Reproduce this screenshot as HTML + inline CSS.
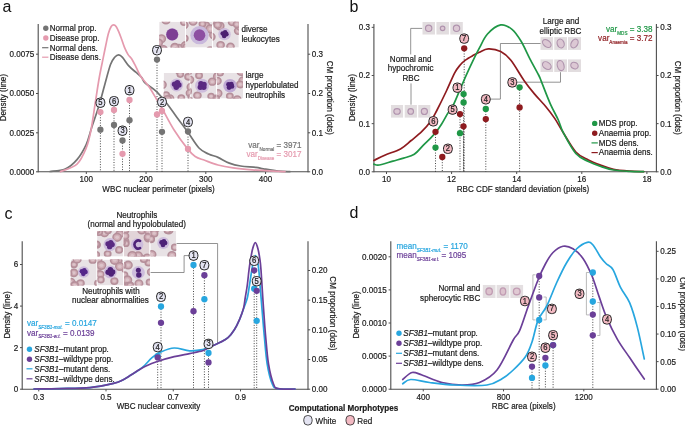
<!DOCTYPE html>
<html><head><meta charset="utf-8"><style>html,body{margin:0;padding:0;background:#fff;width:685px;height:426px;overflow:hidden}svg{display:block;filter:blur(0.3px)}text{font-family:"Liberation Sans",sans-serif}</style></head>
<body>
<svg width="685" height="426" viewBox="0 0 685 426" font-family="Liberation Sans, sans-serif">
<rect width="685" height="426" fill="#fff"/>
<text x="2.6" y="11.8" font-size="16" text-anchor="start" fill="#111">a</text>
<line x1="38.2" y1="24" x2="38.2" y2="172.3" stroke="#4d4d4d" stroke-width="1.1"/>
<line x1="36.0" y1="54.2" x2="38.2" y2="54.2" stroke="#4d4d4d" stroke-width="1"/>
<text transform="translate(34.2 57.1) scale(1 1.12)" font-size="8.1" text-anchor="end" fill="#1a1a1a" stroke="#1a1a1a" stroke-width="0.18">0.0075</text>
<line x1="36.0" y1="93.5" x2="38.2" y2="93.5" stroke="#4d4d4d" stroke-width="1"/>
<text transform="translate(34.2 96.4) scale(1 1.12)" font-size="8.1" text-anchor="end" fill="#1a1a1a" stroke="#1a1a1a" stroke-width="0.18">0.0050</text>
<line x1="36.0" y1="132.8" x2="38.2" y2="132.8" stroke="#4d4d4d" stroke-width="1"/>
<text transform="translate(34.2 135.70000000000002) scale(1 1.12)" font-size="8.1" text-anchor="end" fill="#1a1a1a" stroke="#1a1a1a" stroke-width="0.18">0.0025</text>
<line x1="36.0" y1="171.8" x2="38.2" y2="171.8" stroke="#4d4d4d" stroke-width="1"/>
<text transform="translate(34.2 174.70000000000002) scale(1 1.12)" font-size="8.1" text-anchor="end" fill="#1a1a1a" stroke="#1a1a1a" stroke-width="0.18">0.0000</text>
<line x1="308" y1="24" x2="308" y2="172.3" stroke="#4d4d4d" stroke-width="1.1"/>
<line x1="308" y1="54.2" x2="310.2" y2="54.2" stroke="#4d4d4d" stroke-width="1"/>
<text transform="translate(311.8 57.1) scale(1 1.12)" font-size="8.1" text-anchor="start" fill="#1a1a1a" stroke="#1a1a1a" stroke-width="0.18">0.3</text>
<line x1="308" y1="93.5" x2="310.2" y2="93.5" stroke="#4d4d4d" stroke-width="1"/>
<text transform="translate(311.8 96.4) scale(1 1.12)" font-size="8.1" text-anchor="start" fill="#1a1a1a" stroke="#1a1a1a" stroke-width="0.18">0.2</text>
<line x1="308" y1="132.8" x2="310.2" y2="132.8" stroke="#4d4d4d" stroke-width="1"/>
<text transform="translate(311.8 135.70000000000002) scale(1 1.12)" font-size="8.1" text-anchor="start" fill="#1a1a1a" stroke="#1a1a1a" stroke-width="0.18">0.1</text>
<line x1="308" y1="171.8" x2="310.2" y2="171.8" stroke="#4d4d4d" stroke-width="1"/>
<text transform="translate(311.8 174.70000000000002) scale(1 1.12)" font-size="8.1" text-anchor="start" fill="#1a1a1a" stroke="#1a1a1a" stroke-width="0.18">0.0</text>
<line x1="38.2" y1="171.8" x2="308" y2="171.8" stroke="#4d4d4d" stroke-width="1.1"/>
<line x1="86.3" y1="171.8" x2="86.3" y2="174.0" stroke="#4d4d4d" stroke-width="1"/>
<text transform="translate(86.3 182.4) scale(1 1.12)" font-size="8.1" text-anchor="middle" fill="#1a1a1a" stroke="#1a1a1a" stroke-width="0.18">100</text>
<line x1="146.05" y1="171.8" x2="146.05" y2="174.0" stroke="#4d4d4d" stroke-width="1"/>
<text transform="translate(146.05 182.4) scale(1 1.12)" font-size="8.1" text-anchor="middle" fill="#1a1a1a" stroke="#1a1a1a" stroke-width="0.18">200</text>
<line x1="205.8" y1="171.8" x2="205.8" y2="174.0" stroke="#4d4d4d" stroke-width="1"/>
<text transform="translate(205.8 182.4) scale(1 1.12)" font-size="8.1" text-anchor="middle" fill="#1a1a1a" stroke="#1a1a1a" stroke-width="0.18">300</text>
<line x1="265.55" y1="171.8" x2="265.55" y2="174.0" stroke="#4d4d4d" stroke-width="1"/>
<text transform="translate(265.55 182.4) scale(1 1.12)" font-size="8.1" text-anchor="middle" fill="#1a1a1a" stroke="#1a1a1a" stroke-width="0.18">400</text>
<text transform="translate(158.5 191.5) scale(1 1.12)" font-size="8.1" text-anchor="middle" fill="#1a1a1a" stroke="#1a1a1a" stroke-width="0.18">WBC nuclear perimeter (pixels)</text>
<text transform="translate(6.1 97.7) rotate(-90) scale(1 1.12)" font-size="8.1" text-anchor="middle" fill="#1a1a1a" stroke="#1a1a1a" stroke-width="0.18">Density (line)</text>
<text transform="translate(326.8 97.7) rotate(90) scale(1 1.12)" font-size="8.1" text-anchor="middle" fill="#1a1a1a" stroke="#1a1a1a" stroke-width="0.18">CM proportion (dots)</text>
<circle cx="45.8" cy="28.2" r="2.7" fill="#747474"/>
<circle cx="45.8" cy="38" r="2.7" fill="#e59aae"/>
<line x1="42.1" y1="47.7" x2="48.4" y2="47.7" stroke="#747474" stroke-width="1.2"/>
<line x1="42.1" y1="57.2" x2="48.4" y2="57.2" stroke="#e59aae" stroke-width="1.2"/>
<text transform="translate(49.7 31.1) scale(1 1.12)" font-size="8.1" text-anchor="start" fill="#1a1a1a" stroke="#1a1a1a" stroke-width="0.18">Normal prop.</text>
<text transform="translate(49.7 40.8) scale(1 1.12)" font-size="8.1" text-anchor="start" fill="#1a1a1a" stroke="#1a1a1a" stroke-width="0.18">Disease prop.</text>
<text transform="translate(49.7 50.5) scale(1 1.12)" font-size="8.1" text-anchor="start" fill="#1a1a1a" stroke="#1a1a1a" stroke-width="0.18">Normal dens.</text>
<text transform="translate(49.7 60.2) scale(1 1.12)" font-size="8.1" text-anchor="start" fill="#1a1a1a" stroke="#1a1a1a" stroke-width="0.18">Disease dens.</text>
<clipPath id="c1"><rect x="159.20" y="21.70" width="26.00" height="25.90"/></clipPath>
<g clip-path="url(#c1)">
<rect x="159.20" y="21.70" width="26.00" height="25.90" fill="#e8e2e5"/>
<ellipse cx="157.01" cy="45.14" rx="3.37" ry="3.12" fill="#d0adb5" stroke="#b58f9a" stroke-width="1.55"/>
<ellipse cx="157.01" cy="45.14" rx="1.56" ry="1.40" fill="#dcc4ca"/>
<ellipse cx="163.91" cy="50.05" rx="3.60" ry="3.34" fill="#d0adb5" stroke="#b58f9a" stroke-width="1.55"/>
<ellipse cx="163.91" cy="50.05" rx="1.67" ry="1.50" fill="#dcc4ca"/>
<ellipse cx="161.30" cy="38.84" rx="4.05" ry="3.75" fill="#d0adb5" stroke="#b58f9a" stroke-width="1.55"/>
<ellipse cx="161.30" cy="38.84" rx="1.87" ry="1.69" fill="#dcc4ca"/>
<ellipse cx="158.60" cy="42.68" rx="3.74" ry="3.46" fill="#d0adb5" stroke="#b58f9a" stroke-width="1.55"/>
<ellipse cx="158.60" cy="42.68" rx="1.73" ry="1.56" fill="#dcc4ca"/>
<ellipse cx="166.00" cy="20.07" rx="4.05" ry="3.75" fill="#d0adb5" stroke="#b58f9a" stroke-width="1.55"/>
<ellipse cx="166.00" cy="20.07" rx="1.87" ry="1.69" fill="#dcc4ca"/>
<ellipse cx="178.88" cy="47.74" rx="3.52" ry="3.26" fill="#d0adb5" stroke="#b58f9a" stroke-width="1.55"/>
<ellipse cx="178.88" cy="47.74" rx="1.63" ry="1.47" fill="#dcc4ca"/>
<ellipse cx="184.02" cy="22.14" rx="3.23" ry="2.99" fill="#d0adb5" stroke="#b58f9a" stroke-width="1.55"/>
<ellipse cx="184.02" cy="22.14" rx="1.49" ry="1.35" fill="#dcc4ca"/>
<ellipse cx="163.37" cy="49.12" rx="3.56" ry="3.30" fill="#d0adb5" stroke="#b58f9a" stroke-width="1.55"/>
<ellipse cx="163.37" cy="49.12" rx="1.65" ry="1.49" fill="#dcc4ca"/>
<ellipse cx="174.83" cy="47.21" rx="3.84" ry="3.56" fill="#d0adb5" stroke="#b58f9a" stroke-width="1.55"/>
<ellipse cx="174.83" cy="47.21" rx="1.78" ry="1.60" fill="#dcc4ca"/>
<ellipse cx="185.58" cy="45.73" rx="4.19" ry="3.88" fill="#d0adb5" stroke="#b58f9a" stroke-width="1.55"/>
<ellipse cx="185.58" cy="45.73" rx="1.94" ry="1.74" fill="#dcc4ca"/>
<ellipse cx="186.70" cy="47.23" rx="3.71" ry="3.44" fill="#d0adb5" stroke="#b58f9a" stroke-width="1.55"/>
<ellipse cx="186.70" cy="47.23" rx="1.72" ry="1.55" fill="#dcc4ca"/>
<circle cx="172.20" cy="34.39" r="6.30" fill="#cdbcdc"/>
<circle cx="172.20" cy="34.39" r="6.00" fill="#7d3f94"/>
</g>
<clipPath id="c2"><rect x="186.00" y="21.70" width="26.00" height="25.90"/></clipPath>
<g clip-path="url(#c2)">
<rect x="186.00" y="21.70" width="26.00" height="25.90" fill="#e8e2e5"/>
<ellipse cx="205.67" cy="25.67" rx="4.01" ry="3.71" fill="#d0adb5" stroke="#b58f9a" stroke-width="1.55"/>
<ellipse cx="205.67" cy="25.67" rx="1.86" ry="1.67" fill="#dcc4ca"/>
<ellipse cx="210.04" cy="49.87" rx="3.18" ry="2.94" fill="#d0adb5" stroke="#b58f9a" stroke-width="1.55"/>
<ellipse cx="210.04" cy="49.87" rx="1.47" ry="1.32" fill="#dcc4ca"/>
<ellipse cx="184.78" cy="38.21" rx="3.13" ry="2.90" fill="#d0adb5" stroke="#b58f9a" stroke-width="1.55"/>
<ellipse cx="184.78" cy="38.21" rx="1.45" ry="1.30" fill="#dcc4ca"/>
<ellipse cx="214.00" cy="34.82" rx="4.19" ry="3.88" fill="#d0adb5" stroke="#b58f9a" stroke-width="1.55"/>
<ellipse cx="214.00" cy="34.82" rx="1.94" ry="1.75" fill="#dcc4ca"/>
<ellipse cx="193.06" cy="21.50" rx="3.75" ry="3.47" fill="#d0adb5" stroke="#b58f9a" stroke-width="1.55"/>
<ellipse cx="193.06" cy="21.50" rx="1.74" ry="1.56" fill="#dcc4ca"/>
<ellipse cx="184.38" cy="25.24" rx="3.53" ry="3.27" fill="#d0adb5" stroke="#b58f9a" stroke-width="1.55"/>
<ellipse cx="184.38" cy="25.24" rx="1.64" ry="1.47" fill="#dcc4ca"/>
<ellipse cx="202.45" cy="23.96" rx="3.12" ry="2.89" fill="#d0adb5" stroke="#b58f9a" stroke-width="1.55"/>
<ellipse cx="202.45" cy="23.96" rx="1.45" ry="1.30" fill="#dcc4ca"/>
<ellipse cx="210.47" cy="28.86" rx="4.15" ry="3.84" fill="#d0adb5" stroke="#b58f9a" stroke-width="1.55"/>
<ellipse cx="210.47" cy="28.86" rx="1.92" ry="1.73" fill="#dcc4ca"/>
<circle cx="199.52" cy="35.17" r="9.20" fill="#c9b9dc"/>
<circle cx="199.52" cy="35.17" r="5.80" fill="#8d4fa2"/>
</g>
<clipPath id="c3"><rect x="212.80" y="21.70" width="26.00" height="25.90"/></clipPath>
<g clip-path="url(#c3)">
<rect x="212.80" y="21.70" width="26.00" height="25.90" fill="#e8e2e5"/>
<ellipse cx="238.18" cy="30.85" rx="3.59" ry="3.33" fill="#d0adb5" stroke="#b58f9a" stroke-width="1.55"/>
<ellipse cx="238.18" cy="30.85" rx="1.66" ry="1.50" fill="#dcc4ca"/>
<ellipse cx="210.89" cy="20.99" rx="3.83" ry="3.55" fill="#d0adb5" stroke="#b58f9a" stroke-width="1.55"/>
<ellipse cx="210.89" cy="20.99" rx="1.77" ry="1.60" fill="#dcc4ca"/>
<ellipse cx="240.26" cy="26.91" rx="3.59" ry="3.32" fill="#d0adb5" stroke="#b58f9a" stroke-width="1.55"/>
<ellipse cx="240.26" cy="26.91" rx="1.66" ry="1.49" fill="#dcc4ca"/>
<ellipse cx="211.04" cy="36.80" rx="3.90" ry="3.61" fill="#d0adb5" stroke="#b58f9a" stroke-width="1.55"/>
<ellipse cx="211.04" cy="36.80" rx="1.81" ry="1.62" fill="#dcc4ca"/>
<ellipse cx="219.87" cy="26.03" rx="3.98" ry="3.68" fill="#d0adb5" stroke="#b58f9a" stroke-width="1.55"/>
<ellipse cx="219.87" cy="26.03" rx="1.84" ry="1.66" fill="#dcc4ca"/>
<ellipse cx="217.65" cy="24.93" rx="3.56" ry="3.30" fill="#d0adb5" stroke="#b58f9a" stroke-width="1.55"/>
<ellipse cx="217.65" cy="24.93" rx="1.65" ry="1.48" fill="#dcc4ca"/>
<ellipse cx="231.98" cy="22.28" rx="3.44" ry="3.18" fill="#d0adb5" stroke="#b58f9a" stroke-width="1.55"/>
<ellipse cx="231.98" cy="22.28" rx="1.59" ry="1.43" fill="#dcc4ca"/>
<ellipse cx="220.61" cy="45.02" rx="3.57" ry="3.30" fill="#d0adb5" stroke="#b58f9a" stroke-width="1.55"/>
<ellipse cx="220.61" cy="45.02" rx="1.65" ry="1.49" fill="#dcc4ca"/>
<ellipse cx="236.89" cy="24.37" rx="3.45" ry="3.20" fill="#d0adb5" stroke="#b58f9a" stroke-width="1.55"/>
<ellipse cx="236.89" cy="24.37" rx="1.60" ry="1.44" fill="#dcc4ca"/>
<ellipse cx="230.49" cy="46.61" rx="3.58" ry="3.32" fill="#d0adb5" stroke="#b58f9a" stroke-width="1.55"/>
<ellipse cx="230.49" cy="46.61" rx="1.66" ry="1.49" fill="#dcc4ca"/>
<circle cx="224.50" cy="34.13" r="6.20" fill="#cdbcdc"/>
<circle cx="226.39" cy="34.13" r="2.31" fill="#4b1f70"/>
<circle cx="224.17" cy="35.99" r="2.31" fill="#4b1f70"/>
<circle cx="222.72" cy="33.49" r="2.31" fill="#4b1f70"/>
<circle cx="225.15" cy="32.36" r="2.31" fill="#4b1f70"/>
</g>
<clipPath id="c4"><rect x="163.70" y="73.00" width="25.90" height="25.50"/></clipPath>
<g clip-path="url(#c4)">
<rect x="163.70" y="73.00" width="25.90" height="25.50" fill="#e8e2e5"/>
<ellipse cx="190.40" cy="93.09" rx="4.05" ry="3.75" fill="#d0adb5" stroke="#b58f9a" stroke-width="1.53"/>
<ellipse cx="190.40" cy="93.09" rx="1.87" ry="1.69" fill="#dcc4ca"/>
<ellipse cx="162.01" cy="84.70" rx="4.07" ry="3.77" fill="#d0adb5" stroke="#b58f9a" stroke-width="1.53"/>
<ellipse cx="162.01" cy="84.70" rx="1.88" ry="1.70" fill="#dcc4ca"/>
<ellipse cx="181.28" cy="98.02" rx="3.15" ry="2.92" fill="#d0adb5" stroke="#b58f9a" stroke-width="1.53"/>
<ellipse cx="181.28" cy="98.02" rx="1.46" ry="1.31" fill="#dcc4ca"/>
<ellipse cx="178.95" cy="70.85" rx="3.27" ry="3.03" fill="#d0adb5" stroke="#b58f9a" stroke-width="1.53"/>
<ellipse cx="178.95" cy="70.85" rx="1.51" ry="1.36" fill="#dcc4ca"/>
<ellipse cx="169.80" cy="98.49" rx="3.87" ry="3.59" fill="#d0adb5" stroke="#b58f9a" stroke-width="1.53"/>
<ellipse cx="169.80" cy="98.49" rx="1.79" ry="1.61" fill="#dcc4ca"/>
<ellipse cx="166.07" cy="94.84" rx="3.18" ry="2.95" fill="#d0adb5" stroke="#b58f9a" stroke-width="1.53"/>
<ellipse cx="166.07" cy="94.84" rx="1.47" ry="1.33" fill="#dcc4ca"/>
<ellipse cx="180.30" cy="74.33" rx="3.03" ry="2.81" fill="#d0adb5" stroke="#b58f9a" stroke-width="1.53"/>
<ellipse cx="180.30" cy="74.33" rx="1.40" ry="1.26" fill="#dcc4ca"/>
<ellipse cx="188.19" cy="76.86" rx="3.27" ry="3.02" fill="#d0adb5" stroke="#b58f9a" stroke-width="1.53"/>
<ellipse cx="188.19" cy="76.86" rx="1.51" ry="1.36" fill="#dcc4ca"/>
<ellipse cx="191.64" cy="97.15" rx="3.35" ry="3.10" fill="#d0adb5" stroke="#b58f9a" stroke-width="1.53"/>
<ellipse cx="191.64" cy="97.15" rx="1.55" ry="1.40" fill="#dcc4ca"/>
<ellipse cx="190.99" cy="86.95" rx="3.78" ry="3.50" fill="#d0adb5" stroke="#b58f9a" stroke-width="1.53"/>
<ellipse cx="190.99" cy="86.95" rx="1.75" ry="1.57" fill="#dcc4ca"/>
<ellipse cx="167.47" cy="99.24" rx="3.79" ry="3.51" fill="#d0adb5" stroke="#b58f9a" stroke-width="1.53"/>
<ellipse cx="167.47" cy="99.24" rx="1.75" ry="1.58" fill="#dcc4ca"/>
<circle cx="176.65" cy="84.98" r="6.50" fill="#cdbcdc"/>
<circle cx="178.90" cy="84.98" r="2.75" fill="#5a2a82"/>
<circle cx="176.26" cy="87.20" r="2.75" fill="#5a2a82"/>
<circle cx="174.54" cy="84.22" r="2.75" fill="#5a2a82"/>
<circle cx="177.42" cy="82.87" r="2.75" fill="#5a2a82"/>
</g>
<clipPath id="c5"><rect x="190.40" y="73.00" width="25.90" height="25.50"/></clipPath>
<g clip-path="url(#c5)">
<rect x="190.40" y="73.00" width="25.90" height="25.50" fill="#e8e2e5"/>
<ellipse cx="217.85" cy="97.80" rx="3.36" ry="3.11" fill="#d0adb5" stroke="#b58f9a" stroke-width="1.53"/>
<ellipse cx="217.85" cy="97.80" rx="1.55" ry="1.40" fill="#dcc4ca"/>
<ellipse cx="199.04" cy="75.53" rx="3.19" ry="2.95" fill="#d0adb5" stroke="#b58f9a" stroke-width="1.53"/>
<ellipse cx="199.04" cy="75.53" rx="1.48" ry="1.33" fill="#dcc4ca"/>
<ellipse cx="189.83" cy="79.67" rx="3.69" ry="3.42" fill="#d0adb5" stroke="#b58f9a" stroke-width="1.53"/>
<ellipse cx="189.83" cy="79.67" rx="1.71" ry="1.54" fill="#dcc4ca"/>
<ellipse cx="187.92" cy="91.19" rx="3.40" ry="3.15" fill="#d0adb5" stroke="#b58f9a" stroke-width="1.53"/>
<ellipse cx="187.92" cy="91.19" rx="1.57" ry="1.42" fill="#dcc4ca"/>
<ellipse cx="197.44" cy="95.50" rx="3.56" ry="3.30" fill="#d0adb5" stroke="#b58f9a" stroke-width="1.53"/>
<ellipse cx="197.44" cy="95.50" rx="1.65" ry="1.48" fill="#dcc4ca"/>
<ellipse cx="189.58" cy="100.29" rx="3.05" ry="2.83" fill="#d0adb5" stroke="#b58f9a" stroke-width="1.53"/>
<ellipse cx="189.58" cy="100.29" rx="1.41" ry="1.27" fill="#dcc4ca"/>
<ellipse cx="211.11" cy="96.30" rx="3.05" ry="2.82" fill="#d0adb5" stroke="#b58f9a" stroke-width="1.53"/>
<ellipse cx="211.11" cy="96.30" rx="1.41" ry="1.27" fill="#dcc4ca"/>
<ellipse cx="212.29" cy="81.66" rx="3.67" ry="3.40" fill="#d0adb5" stroke="#b58f9a" stroke-width="1.53"/>
<ellipse cx="212.29" cy="81.66" rx="1.70" ry="1.53" fill="#dcc4ca"/>
<ellipse cx="188.09" cy="71.88" rx="3.23" ry="2.99" fill="#d0adb5" stroke="#b58f9a" stroke-width="1.53"/>
<ellipse cx="188.09" cy="71.88" rx="1.49" ry="1.35" fill="#dcc4ca"/>
<ellipse cx="217.50" cy="76.46" rx="3.86" ry="3.58" fill="#d0adb5" stroke="#b58f9a" stroke-width="1.53"/>
<ellipse cx="217.50" cy="76.46" rx="1.79" ry="1.61" fill="#dcc4ca"/>
<ellipse cx="216.70" cy="99.28" rx="3.41" ry="3.16" fill="#d0adb5" stroke="#b58f9a" stroke-width="1.53"/>
<ellipse cx="216.70" cy="99.28" rx="1.58" ry="1.42" fill="#dcc4ca"/>
<circle cx="202.05" cy="85.75" r="7.00" fill="#cdbcdc"/>
<circle cx="203.78" cy="87.20" r="2.75" fill="#5a2a82"/>
<circle cx="200.33" cy="87.20" r="2.75" fill="#5a2a82"/>
<circle cx="200.93" cy="83.80" r="2.75" fill="#5a2a82"/>
<circle cx="204.00" cy="84.62" r="2.75" fill="#5a2a82"/>
</g>
<clipPath id="c6"><rect x="217.10" y="73.00" width="25.90" height="25.50"/></clipPath>
<g clip-path="url(#c6)">
<rect x="217.10" y="73.00" width="25.90" height="25.50" fill="#e8e2e5"/>
<ellipse cx="217.87" cy="93.35" rx="3.91" ry="3.62" fill="#d0adb5" stroke="#b58f9a" stroke-width="1.53"/>
<ellipse cx="217.87" cy="93.35" rx="1.81" ry="1.63" fill="#dcc4ca"/>
<ellipse cx="241.23" cy="71.57" rx="4.07" ry="3.77" fill="#d0adb5" stroke="#b58f9a" stroke-width="1.53"/>
<ellipse cx="241.23" cy="71.57" rx="1.88" ry="1.70" fill="#dcc4ca"/>
<ellipse cx="217.34" cy="80.88" rx="3.70" ry="3.43" fill="#d0adb5" stroke="#b58f9a" stroke-width="1.53"/>
<ellipse cx="217.34" cy="80.88" rx="1.71" ry="1.54" fill="#dcc4ca"/>
<ellipse cx="243.04" cy="80.85" rx="4.05" ry="3.75" fill="#d0adb5" stroke="#b58f9a" stroke-width="1.53"/>
<ellipse cx="243.04" cy="80.85" rx="1.87" ry="1.69" fill="#dcc4ca"/>
<ellipse cx="220.03" cy="72.84" rx="3.19" ry="2.96" fill="#d0adb5" stroke="#b58f9a" stroke-width="1.53"/>
<ellipse cx="220.03" cy="72.84" rx="1.48" ry="1.33" fill="#dcc4ca"/>
<ellipse cx="235.93" cy="100.95" rx="3.21" ry="2.97" fill="#d0adb5" stroke="#b58f9a" stroke-width="1.53"/>
<ellipse cx="235.93" cy="100.95" rx="1.48" ry="1.34" fill="#dcc4ca"/>
<ellipse cx="216.02" cy="100.64" rx="3.62" ry="3.35" fill="#d0adb5" stroke="#b58f9a" stroke-width="1.53"/>
<ellipse cx="216.02" cy="100.64" rx="1.67" ry="1.51" fill="#dcc4ca"/>
<ellipse cx="240.19" cy="84.39" rx="3.49" ry="3.24" fill="#d0adb5" stroke="#b58f9a" stroke-width="1.53"/>
<ellipse cx="240.19" cy="84.39" rx="1.62" ry="1.46" fill="#dcc4ca"/>
<ellipse cx="216.24" cy="98.48" rx="3.07" ry="2.84" fill="#d0adb5" stroke="#b58f9a" stroke-width="1.53"/>
<ellipse cx="216.24" cy="98.48" rx="1.42" ry="1.28" fill="#dcc4ca"/>
<ellipse cx="229.85" cy="96.11" rx="3.17" ry="2.94" fill="#d0adb5" stroke="#b58f9a" stroke-width="1.53"/>
<ellipse cx="229.85" cy="96.11" rx="1.47" ry="1.32" fill="#dcc4ca"/>
<ellipse cx="237.25" cy="99.51" rx="3.72" ry="3.45" fill="#d0adb5" stroke="#b58f9a" stroke-width="1.53"/>
<ellipse cx="237.25" cy="99.51" rx="1.72" ry="1.55" fill="#dcc4ca"/>
<circle cx="230.05" cy="85.75" r="6.80" fill="#bfa9d4"/>
<circle cx="231.91" cy="86.43" r="2.42" fill="#4e2378"/>
<circle cx="229.06" cy="87.46" r="2.42" fill="#4e2378"/>
<circle cx="228.53" cy="84.48" r="2.42" fill="#4e2378"/>
<circle cx="231.32" cy="84.23" r="2.42" fill="#4e2378"/>
</g>
<text transform="translate(241.5 32) scale(1 1.12)" font-size="8.1" text-anchor="start" fill="#1a1a1a" stroke="#1a1a1a" stroke-width="0.18">diverse</text>
<text transform="translate(241.5 42) scale(1 1.12)" font-size="8.1" text-anchor="start" fill="#1a1a1a" stroke="#1a1a1a" stroke-width="0.18">leukocytes</text>
<text transform="translate(245.5 78) scale(1 1.12)" font-size="8.1" text-anchor="start" fill="#1a1a1a" stroke="#1a1a1a" stroke-width="0.18">large</text>
<text transform="translate(245.5 88) scale(1 1.12)" font-size="8.1" text-anchor="start" fill="#1a1a1a" stroke="#1a1a1a" stroke-width="0.18">hyperlobulated</text>
<text transform="translate(245.5 98) scale(1 1.12)" font-size="8.1" text-anchor="start" fill="#1a1a1a" stroke="#1a1a1a" stroke-width="0.18">neutrophils</text>
<text transform="translate(301.5 147.6) scale(1 1.12)" font-size="8.1" text-anchor="end" fill="#747474" stroke="#747474" stroke-width="0.18">var<tspan font-size="4.6" dy="2.6">Normal</tspan><tspan dy="-2.6"> = 3971</tspan></text>
<text transform="translate(301.5 157.2) scale(1 1.12)" font-size="8.1" text-anchor="end" fill="#e59aae" stroke="#e59aae" stroke-width="0.18">var<tspan font-size="4.6" dy="2.6">Disease</tspan><tspan dy="-2.6"> = 3017</tspan></text>
<line x1="100.4" y1="112.1" x2="100.4" y2="171.8" stroke="#333" stroke-width="0.9" stroke-dasharray="1,1.6"/>
<line x1="114" y1="110" x2="114" y2="171.8" stroke="#333" stroke-width="0.9" stroke-dasharray="1,1.6"/>
<line x1="122.5" y1="140.5" x2="122.5" y2="171.8" stroke="#333" stroke-width="0.9" stroke-dasharray="1,1.6"/>
<line x1="129.5" y1="100" x2="129.5" y2="171.8" stroke="#333" stroke-width="0.9" stroke-dasharray="1,1.6"/>
<line x1="157" y1="59.6" x2="157" y2="171.8" stroke="#333" stroke-width="0.9" stroke-dasharray="1,1.6"/>
<line x1="162" y1="111" x2="162" y2="171.8" stroke="#333" stroke-width="0.9" stroke-dasharray="1,1.6"/>
<line x1="188" y1="131.4" x2="188" y2="171.8" stroke="#333" stroke-width="0.9" stroke-dasharray="1,1.6"/>
<path d="M50.00,171.50 C52.53,171.08 60.70,170.98 65.20,169.00 C69.70,167.02 73.48,163.72 77.00,159.60 C80.52,155.48 83.85,149.65 86.30,144.30 C88.75,138.95 89.62,133.83 91.70,127.50 C93.78,121.17 96.65,113.35 98.80,106.30 C100.95,99.25 102.65,92.17 104.60,85.20 C106.55,78.23 108.82,69.15 110.50,64.50 C112.18,59.85 113.33,58.90 114.70,57.30 C116.07,55.70 117.40,54.88 118.70,54.90 C120.00,54.92 120.82,55.57 122.50,57.40 C124.18,59.23 126.58,63.43 128.80,65.90 C131.02,68.37 133.68,70.32 135.80,72.20 C137.92,74.08 139.97,75.42 141.50,77.20 C143.03,78.98 142.53,80.55 145.00,82.90 C147.47,85.25 152.53,87.70 156.30,91.30 C160.07,94.90 164.15,100.12 167.60,104.50 C171.05,108.88 173.67,113.05 177.00,117.60 C180.33,122.15 183.93,126.73 187.60,131.80 C191.27,136.87 195.52,144.30 199.00,148.00 C202.48,151.70 205.33,152.43 208.50,154.00 C211.67,155.57 214.53,155.88 218.00,157.40 C221.47,158.92 225.52,161.67 229.30,163.10 C233.08,164.53 236.27,165.30 240.70,166.00 C245.13,166.70 252.10,166.83 255.90,167.30 C259.70,167.77 259.70,168.15 263.50,168.80 C267.30,169.45 274.28,170.73 278.70,171.20 C283.12,171.67 288.12,171.53 290.00,171.60" fill="none" stroke="#747474" stroke-width="1.7" stroke-linejoin="round" stroke-linecap="round"/>
<path d="M60.50,171.60 C63.25,170.37 72.70,168.17 77.00,164.20 C81.30,160.23 83.97,153.47 86.30,147.80 C88.63,142.13 89.43,138.17 91.00,130.20 C92.57,122.23 94.33,108.70 95.70,100.00 C97.07,91.30 98.03,84.62 99.20,78.00 C100.37,71.38 101.63,65.60 102.70,60.30 C103.77,55.00 104.65,50.67 105.60,46.20 C106.55,41.73 107.47,36.78 108.40,33.50 C109.33,30.22 110.32,27.95 111.20,26.50 C112.08,25.05 112.88,24.80 113.70,24.80 C114.52,24.80 115.23,25.28 116.10,26.50 C116.97,27.72 117.95,29.88 118.90,32.10 C119.85,34.32 120.85,37.22 121.80,39.80 C122.75,42.38 123.55,45.13 124.60,47.60 C125.65,50.07 126.93,52.73 128.10,54.60 C129.27,56.47 130.32,56.80 131.60,58.80 C132.88,60.80 134.27,63.65 135.80,66.60 C137.33,69.55 138.63,73.17 140.80,76.50 C142.97,79.83 146.22,82.88 148.80,86.60 C151.38,90.32 153.95,94.90 156.30,98.80 C158.65,102.70 159.93,104.80 162.90,110.00 C165.87,115.20 169.98,123.52 174.10,130.00 C178.22,136.48 184.08,144.48 187.60,148.90 C191.12,153.32 192.35,154.60 195.20,156.50 C198.05,158.40 200.90,158.88 204.70,160.30 C208.50,161.72 213.27,163.73 218.00,165.00 C222.73,166.27 227.42,167.10 233.10,167.90 C238.78,168.70 244.50,169.22 252.10,169.80 C259.70,170.38 273.22,171.10 278.70,171.40 C284.18,171.70 283.95,171.57 285.00,171.60" fill="none" stroke="#e59aae" stroke-width="1.7" stroke-linejoin="round" stroke-linecap="round"/>
<circle cx="100.4" cy="112.1" r="3.15" fill="#e59aae"/>
<circle cx="100.4" cy="129.7" r="3.15" fill="#747474"/>
<rect x="96.0" y="98.0" width="8.8" height="9.4" rx="3.9" ry="3.9" fill="#e4e4f2" stroke="#262626" stroke-width="1"/>
<text transform="translate(100.4 105.2) scale(1 1.12)" font-size="7.6" text-anchor="middle" fill="#1a1a1a" stroke="#1a1a1a" stroke-width="0.18">5</text>
<circle cx="114" cy="110" r="3.15" fill="#e59aae"/>
<circle cx="114" cy="125" r="3.15" fill="#747474"/>
<rect x="109.6" y="96.5" width="8.8" height="9.4" rx="3.9" ry="3.9" fill="#e4e4f2" stroke="#262626" stroke-width="1"/>
<text transform="translate(114 103.7) scale(1 1.12)" font-size="7.6" text-anchor="middle" fill="#1a1a1a" stroke="#1a1a1a" stroke-width="0.18">6</text>
<circle cx="122.5" cy="140.5" r="3.15" fill="#747474"/>
<circle cx="122.5" cy="153.8" r="3.15" fill="#e59aae"/>
<rect x="118.1" y="125.99999999999999" width="8.8" height="9.4" rx="3.9" ry="3.9" fill="#e4e4f2" stroke="#262626" stroke-width="1"/>
<text transform="translate(122.5 133.2) scale(1 1.12)" font-size="7.6" text-anchor="middle" fill="#1a1a1a" stroke="#1a1a1a" stroke-width="0.18">3</text>
<circle cx="129.5" cy="100" r="3.15" fill="#e59aae"/>
<circle cx="129.5" cy="120.2" r="3.15" fill="#747474"/>
<rect x="125.1" y="85.5" width="8.8" height="9.4" rx="3.9" ry="3.9" fill="#e4e4f2" stroke="#262626" stroke-width="1"/>
<text transform="translate(129.5 92.7) scale(1 1.12)" font-size="7.6" text-anchor="middle" fill="#1a1a1a" stroke="#1a1a1a" stroke-width="0.18">1</text>
<circle cx="157" cy="59.6" r="3.15" fill="#747474"/>
<circle cx="157" cy="114.4" r="3.15" fill="#e59aae"/>
<rect x="152.6" y="45.5" width="8.8" height="9.4" rx="3.9" ry="3.9" fill="#e4e4f2" stroke="#262626" stroke-width="1"/>
<text transform="translate(157 52.7) scale(1 1.12)" font-size="7.6" text-anchor="middle" fill="#1a1a1a" stroke="#1a1a1a" stroke-width="0.18">7</text>
<circle cx="162" cy="111" r="3.15" fill="#e59aae"/>
<circle cx="162" cy="131.8" r="3.15" fill="#747474"/>
<rect x="157.6" y="97.3" width="8.8" height="9.4" rx="3.9" ry="3.9" fill="#e4e4f2" stroke="#262626" stroke-width="1"/>
<text transform="translate(162 104.5) scale(1 1.12)" font-size="7.6" text-anchor="middle" fill="#1a1a1a" stroke="#1a1a1a" stroke-width="0.18">2</text>
<circle cx="188" cy="131.4" r="3.15" fill="#747474"/>
<circle cx="188" cy="148.9" r="3.15" fill="#e59aae"/>
<rect x="183.6" y="117.3" width="8.8" height="9.4" rx="3.9" ry="3.9" fill="#e4e4f2" stroke="#262626" stroke-width="1"/>
<text transform="translate(188 124.5) scale(1 1.12)" font-size="7.6" text-anchor="middle" fill="#1a1a1a" stroke="#1a1a1a" stroke-width="0.18">4</text>
<text x="349.5" y="11.7" font-size="16" text-anchor="start" fill="#111">b</text>
<line x1="373.9" y1="24" x2="373.9" y2="172.3" stroke="#4d4d4d" stroke-width="1.1"/>
<line x1="371.7" y1="27.350000000000023" x2="373.9" y2="27.350000000000023" stroke="#4d4d4d" stroke-width="1"/>
<text transform="translate(369.9 30.25000000000002) scale(1 1.12)" font-size="8.1" text-anchor="end" fill="#1a1a1a" stroke="#1a1a1a" stroke-width="0.18">0.3</text>
<line x1="371.7" y1="75.5" x2="373.9" y2="75.5" stroke="#4d4d4d" stroke-width="1"/>
<text transform="translate(369.9 78.4) scale(1 1.12)" font-size="8.1" text-anchor="end" fill="#1a1a1a" stroke="#1a1a1a" stroke-width="0.18">0.2</text>
<line x1="371.7" y1="123.65" x2="373.9" y2="123.65" stroke="#4d4d4d" stroke-width="1"/>
<text transform="translate(369.9 126.55000000000001) scale(1 1.12)" font-size="8.1" text-anchor="end" fill="#1a1a1a" stroke="#1a1a1a" stroke-width="0.18">0.1</text>
<line x1="371.7" y1="171.8" x2="373.9" y2="171.8" stroke="#4d4d4d" stroke-width="1"/>
<text transform="translate(369.9 174.70000000000002) scale(1 1.12)" font-size="8.1" text-anchor="end" fill="#1a1a1a" stroke="#1a1a1a" stroke-width="0.18">0.0</text>
<line x1="656.4" y1="24" x2="656.4" y2="172.3" stroke="#4d4d4d" stroke-width="1.1"/>
<line x1="656.4" y1="27.350000000000023" x2="658.6" y2="27.350000000000023" stroke="#4d4d4d" stroke-width="1"/>
<text transform="translate(660.1999999999999 30.25000000000002) scale(1 1.12)" font-size="8.1" text-anchor="start" fill="#1a1a1a" stroke="#1a1a1a" stroke-width="0.18">0.3</text>
<line x1="656.4" y1="75.5" x2="658.6" y2="75.5" stroke="#4d4d4d" stroke-width="1"/>
<text transform="translate(660.1999999999999 78.4) scale(1 1.12)" font-size="8.1" text-anchor="start" fill="#1a1a1a" stroke="#1a1a1a" stroke-width="0.18">0.2</text>
<line x1="656.4" y1="123.65" x2="658.6" y2="123.65" stroke="#4d4d4d" stroke-width="1"/>
<text transform="translate(660.1999999999999 126.55000000000001) scale(1 1.12)" font-size="8.1" text-anchor="start" fill="#1a1a1a" stroke="#1a1a1a" stroke-width="0.18">0.1</text>
<line x1="656.4" y1="171.8" x2="658.6" y2="171.8" stroke="#4d4d4d" stroke-width="1"/>
<text transform="translate(660.1999999999999 174.70000000000002) scale(1 1.12)" font-size="8.1" text-anchor="start" fill="#1a1a1a" stroke="#1a1a1a" stroke-width="0.18">0.0</text>
<line x1="373.9" y1="171.8" x2="656.4" y2="171.8" stroke="#4d4d4d" stroke-width="1.1"/>
<line x1="386.5" y1="171.8" x2="386.5" y2="174.0" stroke="#4d4d4d" stroke-width="1"/>
<text transform="translate(386.5 182.4) scale(1 1.12)" font-size="8.1" text-anchor="middle" fill="#1a1a1a" stroke="#1a1a1a" stroke-width="0.18">10</text>
<line x1="451.6" y1="171.8" x2="451.6" y2="174.0" stroke="#4d4d4d" stroke-width="1"/>
<text transform="translate(451.6 182.4) scale(1 1.12)" font-size="8.1" text-anchor="middle" fill="#1a1a1a" stroke="#1a1a1a" stroke-width="0.18">12</text>
<line x1="516.7" y1="171.8" x2="516.7" y2="174.0" stroke="#4d4d4d" stroke-width="1"/>
<text transform="translate(516.7 182.4) scale(1 1.12)" font-size="8.1" text-anchor="middle" fill="#1a1a1a" stroke="#1a1a1a" stroke-width="0.18">14</text>
<line x1="581.8" y1="171.8" x2="581.8" y2="174.0" stroke="#4d4d4d" stroke-width="1"/>
<text transform="translate(581.8 182.4) scale(1 1.12)" font-size="8.1" text-anchor="middle" fill="#1a1a1a" stroke="#1a1a1a" stroke-width="0.18">16</text>
<line x1="646.9" y1="171.8" x2="646.9" y2="174.0" stroke="#4d4d4d" stroke-width="1"/>
<text transform="translate(646.9 182.4) scale(1 1.12)" font-size="8.1" text-anchor="middle" fill="#1a1a1a" stroke="#1a1a1a" stroke-width="0.18">18</text>
<text transform="translate(523 191.5) scale(1 1.12)" font-size="8.1" text-anchor="middle" fill="#1a1a1a" stroke="#1a1a1a" stroke-width="0.18">RBC CDF standard deviation (pixels)</text>
<text transform="translate(355.4 97.7) rotate(-90) scale(1 1.12)" font-size="8.1" text-anchor="middle" fill="#1a1a1a" stroke="#1a1a1a" stroke-width="0.18">Density (line)</text>
<text transform="translate(675.3 97.7) rotate(90) scale(1 1.12)" font-size="8.1" text-anchor="middle" fill="#1a1a1a" stroke="#1a1a1a" stroke-width="0.18">CM proportion (dots)</text>
<circle cx="594.7" cy="123.4" r="2.7" fill="#1f9746"/>
<circle cx="594.7" cy="133.2" r="2.7" fill="#8e1b1f"/>
<line x1="591.5" y1="142.9" x2="597.8" y2="142.9" stroke="#1f9746" stroke-width="1.2"/>
<line x1="591.5" y1="152.6" x2="597.8" y2="152.6" stroke="#8e1b1f" stroke-width="1.2"/>
<text transform="translate(598.8 126.3) scale(1 1.12)" font-size="8.1" text-anchor="start" fill="#1a1a1a" stroke="#1a1a1a" stroke-width="0.18">MDS prop.</text>
<text transform="translate(598.8 136.0) scale(1 1.12)" font-size="8.1" text-anchor="start" fill="#1a1a1a" stroke="#1a1a1a" stroke-width="0.18">Anaemia prop.</text>
<text transform="translate(598.8 145.7) scale(1 1.12)" font-size="8.1" text-anchor="start" fill="#1a1a1a" stroke="#1a1a1a" stroke-width="0.18">MDS dens.</text>
<text transform="translate(598.8 155.4) scale(1 1.12)" font-size="8.1" text-anchor="start" fill="#1a1a1a" stroke="#1a1a1a" stroke-width="0.18">Anaemia dens.</text>
<text transform="translate(652.4 31.8) scale(1 1.12)" font-size="8.1" text-anchor="end" fill="#1f9746" stroke="#1f9746" stroke-width="0.18">var<tspan font-size="4.6" dy="2.6">MDS</tspan><tspan dy="-2.6"> = 3.38</tspan></text>
<text transform="translate(652.4 40.6) scale(1 1.12)" font-size="8.1" text-anchor="end" fill="#8e1b1f" stroke="#8e1b1f" stroke-width="0.18">var<tspan font-size="4.6" dy="2.6">Anaemia</tspan><tspan dy="-2.6"> = 3.72</tspan></text>
<line x1="410.7" y1="28.4" x2="422.3" y2="28.4" stroke="#777" stroke-width="0.8"/>
<line x1="410.7" y1="28.4" x2="410.7" y2="54.4" stroke="#777" stroke-width="0.8"/>
<line x1="411" y1="83.4" x2="411" y2="104.7" stroke="#777" stroke-width="0.8"/>
<clipPath id="c7"><rect x="422.30" y="22.00" width="12.73" height="12.70"/></clipPath>
<g clip-path="url(#c7)">
<rect x="422.30" y="22.00" width="12.73" height="12.70" fill="#e2dddf"/>
<ellipse cx="428.67" cy="28.35" rx="3.17" ry="3.17" fill="#dcc8d4" stroke="#b094ae" stroke-width="1.14" transform="rotate(0 428.67 28.35)"/>
</g>
<clipPath id="c8"><rect x="436.23" y="22.00" width="12.73" height="12.70"/></clipPath>
<g clip-path="url(#c8)">
<rect x="436.23" y="22.00" width="12.73" height="12.70" fill="#e2dddf"/>
<ellipse cx="442.60" cy="28.35" rx="2.29" ry="2.29" fill="#dcc8d4" stroke="#b094ae" stroke-width="1.14" transform="rotate(0 442.60 28.35)"/>
</g>
<clipPath id="c9"><rect x="450.17" y="22.00" width="12.73" height="12.70"/></clipPath>
<g clip-path="url(#c9)">
<rect x="450.17" y="22.00" width="12.73" height="12.70" fill="#e2dddf"/>
<ellipse cx="456.53" cy="28.35" rx="3.17" ry="3.17" fill="#dcc8d4" stroke="#b094ae" stroke-width="1.14" transform="rotate(0 456.53 28.35)"/>
</g>
<clipPath id="c10"><rect x="390.80" y="105.00" width="12.47" height="12.80"/></clipPath>
<g clip-path="url(#c10)">
<rect x="390.80" y="105.00" width="12.47" height="12.80" fill="#e2dddf"/>
<ellipse cx="397.03" cy="111.40" rx="3.20" ry="2.82" fill="#dcc8d4" stroke="#b094ae" stroke-width="1.15" transform="rotate(0 397.03 111.40)"/>
</g>
<clipPath id="c11"><rect x="404.47" y="105.00" width="12.47" height="12.80"/></clipPath>
<g clip-path="url(#c11)">
<rect x="404.47" y="105.00" width="12.47" height="12.80" fill="#e2dddf"/>
<ellipse cx="410.70" cy="111.40" rx="2.82" ry="2.82" fill="#dcc8d4" stroke="#b094ae" stroke-width="1.15" transform="rotate(0 410.70 111.40)"/>
</g>
<clipPath id="c12"><rect x="418.13" y="105.00" width="12.47" height="12.80"/></clipPath>
<g clip-path="url(#c12)">
<rect x="418.13" y="105.00" width="12.47" height="12.80" fill="#e2dddf"/>
<ellipse cx="424.37" cy="111.40" rx="3.07" ry="3.07" fill="#dcc8d4" stroke="#b094ae" stroke-width="1.15" transform="rotate(0 424.37 111.40)"/>
</g>
<text transform="translate(410.7 61.9) scale(1 1.12)" font-size="8.1" text-anchor="middle" fill="#1a1a1a" stroke="#1a1a1a" stroke-width="0.18">Normal and</text>
<text transform="translate(410.7 71.3) scale(1 1.12)" font-size="8.1" text-anchor="middle" fill="#1a1a1a" stroke="#1a1a1a" stroke-width="0.18">hypochromic</text>
<text transform="translate(411 81.3) scale(1 1.12)" font-size="8.1" text-anchor="middle" fill="#1a1a1a" stroke="#1a1a1a" stroke-width="0.18">RBC</text>
<text transform="translate(561 24.4) scale(1 1.12)" font-size="8.1" text-anchor="middle" fill="#1a1a1a" stroke="#1a1a1a" stroke-width="0.18">Large and</text>
<text transform="translate(560.5 33.9) scale(1 1.12)" font-size="8.1" text-anchor="middle" fill="#1a1a1a" stroke="#1a1a1a" stroke-width="0.18">elliptic RBC</text>
<clipPath id="c13"><rect x="540.30" y="37.10" width="13.03" height="12.80"/></clipPath>
<g clip-path="url(#c13)">
<rect x="540.30" y="37.10" width="13.03" height="12.80" fill="#e2dddf"/>
<ellipse cx="546.82" cy="43.50" rx="4.86" ry="3.20" fill="#dcc8d4" stroke="#b094ae" stroke-width="1.15" transform="rotate(40 546.82 43.50)"/>
</g>
<clipPath id="c14"><rect x="554.13" y="37.10" width="13.03" height="12.80"/></clipPath>
<g clip-path="url(#c14)">
<rect x="554.13" y="37.10" width="13.03" height="12.80" fill="#e2dddf"/>
<ellipse cx="560.65" cy="43.50" rx="4.48" ry="3.46" fill="#dcc8d4" stroke="#b094ae" stroke-width="1.15" transform="rotate(70 560.65 43.50)"/>
</g>
<clipPath id="c15"><rect x="567.97" y="37.10" width="13.03" height="12.80"/></clipPath>
<g clip-path="url(#c15)">
<rect x="567.97" y="37.10" width="13.03" height="12.80" fill="#e2dddf"/>
<ellipse cx="574.48" cy="43.50" rx="4.74" ry="3.20" fill="#dcc8d4" stroke="#b094ae" stroke-width="1.15" transform="rotate(-60 574.48 43.50)"/>
</g>
<clipPath id="c16"><rect x="540.30" y="59.20" width="13.03" height="12.80"/></clipPath>
<g clip-path="url(#c16)">
<rect x="540.30" y="59.20" width="13.03" height="12.80" fill="#e2dddf"/>
<ellipse cx="546.82" cy="65.60" rx="4.74" ry="3.33" fill="#dcc8d4" stroke="#b094ae" stroke-width="1.15" transform="rotate(35 546.82 65.60)"/>
</g>
<clipPath id="c17"><rect x="554.13" y="59.20" width="13.03" height="12.80"/></clipPath>
<g clip-path="url(#c17)">
<rect x="554.13" y="59.20" width="13.03" height="12.80" fill="#e2dddf"/>
<ellipse cx="560.65" cy="65.60" rx="5.12" ry="3.33" fill="#dcc8d4" stroke="#b094ae" stroke-width="1.15" transform="rotate(75 560.65 65.60)"/>
</g>
<clipPath id="c18"><rect x="567.97" y="59.20" width="13.03" height="12.80"/></clipPath>
<g clip-path="url(#c18)">
<rect x="567.97" y="59.20" width="13.03" height="12.80" fill="#e2dddf"/>
<ellipse cx="574.48" cy="65.60" rx="3.84" ry="3.20" fill="#dcc8d4" stroke="#b094ae" stroke-width="1.15" transform="rotate(30 574.48 65.60)"/>
</g>
<line x1="500.4" y1="43.5" x2="540.6" y2="43.5" stroke="#777" stroke-width="0.8"/>
<line x1="500.4" y1="43.5" x2="500.4" y2="99.1" stroke="#777" stroke-width="0.8"/>
<line x1="490" y1="99.1" x2="500.4" y2="99.1" stroke="#777" stroke-width="0.8"/>
<line x1="517" y1="82.2" x2="560.5" y2="82.2" stroke="#777" stroke-width="0.8"/>
<line x1="560.5" y1="82.2" x2="560.5" y2="72.2" stroke="#777" stroke-width="0.8"/>
<line x1="435.5" y1="131.8" x2="435.5" y2="171.8" stroke="#333" stroke-width="0.9" stroke-dasharray="1,1.6"/>
<line x1="442.3" y1="157" x2="442.3" y2="171.8" stroke="#333" stroke-width="0.9" stroke-dasharray="1,1.6"/>
<line x1="460" y1="114.1" x2="460" y2="171.8" stroke="#333" stroke-width="0.9" stroke-dasharray="1,1.6"/>
<line x1="463.5" y1="126.3" x2="463.5" y2="171.8" stroke="#333" stroke-width="0.9" stroke-dasharray="1,1.6"/>
<line x1="464.2" y1="48.3" x2="464.2" y2="171.8" stroke="#333" stroke-width="0.9" stroke-dasharray="1,1.6"/>
<line x1="463.6" y1="94.1" x2="463.6" y2="171.8" stroke="#333" stroke-width="0.9" stroke-dasharray="1,1.6"/>
<line x1="485.8" y1="108.9" x2="485.8" y2="171.8" stroke="#333" stroke-width="0.9" stroke-dasharray="1,1.6"/>
<line x1="519.6" y1="87.3" x2="519.6" y2="171.8" stroke="#333" stroke-width="0.9" stroke-dasharray="1,1.6"/>
<path d="M373.90,160.40 C375.80,159.50 380.87,156.92 385.30,155.00 C389.73,153.08 396.18,151.32 400.50,148.90 C404.82,146.48 407.63,143.42 411.20,140.50 C414.77,137.58 418.58,134.70 421.90,131.40 C425.22,128.10 428.62,124.18 431.10,120.70 C433.58,117.22 434.25,115.45 436.80,110.50 C439.35,105.55 443.42,97.27 446.40,91.00 C449.38,84.73 452.37,77.28 454.70,72.90 C457.03,68.52 458.62,66.83 460.40,64.70 C462.18,62.57 463.33,61.62 465.40,60.10 C467.47,58.58 470.48,56.90 472.80,55.60 C475.12,54.30 476.73,53.42 479.30,52.30 C481.87,51.18 484.63,49.03 488.20,48.90 C491.77,48.77 496.92,49.60 500.70,51.50 C504.48,53.40 507.02,55.48 510.90,60.30 C514.78,65.12 520.12,74.85 524.00,80.40 C527.88,85.95 530.55,89.22 534.20,93.60 C537.85,97.98 542.48,102.57 545.90,106.70 C549.32,110.83 551.80,114.07 554.70,118.40 C557.60,122.73 559.78,127.10 563.30,132.70 C566.82,138.30 571.62,147.45 575.80,152.00 C579.98,156.55 584.20,157.78 588.40,160.00 C592.60,162.22 596.82,163.73 601.00,165.30 C605.18,166.87 608.67,168.42 613.50,169.40 C618.33,170.38 624.97,170.83 630.00,171.20 C635.03,171.57 641.42,171.53 643.70,171.60" fill="none" stroke="#8e1b1f" stroke-width="1.7" stroke-linejoin="round" stroke-linecap="round"/>
<path d="M373.90,164.20 C374.78,164.33 376.03,165.52 379.20,165.00 C382.37,164.48 388.83,162.25 392.90,161.10 C396.97,159.95 400.03,159.23 403.60,158.10 C407.17,156.97 411.00,156.47 414.30,154.30 C417.60,152.13 420.10,148.42 423.40,145.10 C426.70,141.78 431.03,137.97 434.10,134.40 C437.17,130.83 439.50,127.25 441.80,123.70 C444.10,120.15 446.03,116.08 447.90,113.10 C449.77,110.12 450.50,110.85 453.00,105.80 C455.50,100.75 459.88,89.65 462.90,82.80 C465.92,75.95 468.37,70.47 471.10,64.70 C473.83,58.93 476.57,53.32 479.30,48.20 C482.03,43.08 483.93,37.88 487.50,34.00 C491.07,30.12 496.57,25.63 500.70,24.90 C504.83,24.17 508.90,26.87 512.30,29.60 C515.70,32.33 518.17,36.43 521.10,41.30 C524.03,46.17 526.98,53.18 529.90,58.80 C532.82,64.42 536.67,71.15 538.60,75.00 C540.53,78.85 539.55,77.10 541.50,81.90 C543.45,86.70 547.50,97.45 550.30,103.80 C553.10,110.15 556.13,115.18 558.30,120.00 C560.47,124.82 560.38,127.12 563.30,132.70 C566.22,138.28 571.62,148.70 575.80,153.50 C579.98,158.30 584.20,159.33 588.40,161.50 C592.60,163.67 596.82,165.08 601.00,166.50 C605.18,167.92 608.67,169.18 613.50,170.00 C618.33,170.82 624.97,171.13 630.00,171.40 C635.03,171.67 641.42,171.57 643.70,171.60" fill="none" stroke="#1f9746" stroke-width="1.7" stroke-linejoin="round" stroke-linecap="round"/>
<circle cx="435.5" cy="131.8" r="3.15" fill="#8e1b1f"/>
<circle cx="435.5" cy="147.6" r="3.15" fill="#1f9746"/>
<rect x="428.90000000000003" y="116.6" width="8.8" height="9.4" rx="3.9" ry="3.9" fill="#f2b9c2" stroke="#262626" stroke-width="1"/>
<text transform="translate(433.3 123.8) scale(1 1.12)" font-size="7.6" text-anchor="middle" fill="#1a1a1a" stroke="#1a1a1a" stroke-width="0.18">6</text>
<circle cx="442.3" cy="157" r="3.15" fill="#8e1b1f"/>
<rect x="443.5" y="144.1" width="8.8" height="9.4" rx="3.9" ry="3.9" fill="#f2b9c2" stroke="#262626" stroke-width="1"/>
<text transform="translate(447.9 151.29999999999998) scale(1 1.12)" font-size="7.6" text-anchor="middle" fill="#1a1a1a" stroke="#1a1a1a" stroke-width="0.18">2</text>
<circle cx="460" cy="114.1" r="3.15" fill="#8e1b1f"/>
<circle cx="460" cy="133.2" r="3.15" fill="#1f9746"/>
<rect x="448.20000000000005" y="104.9" width="8.8" height="9.4" rx="3.9" ry="3.9" fill="#f2b9c2" stroke="#262626" stroke-width="1"/>
<text transform="translate(452.6 112.10000000000001) scale(1 1.12)" font-size="7.6" text-anchor="middle" fill="#1a1a1a" stroke="#1a1a1a" stroke-width="0.18">5</text>
<circle cx="463.5" cy="126.3" r="3.15" fill="#8e1b1f"/>
<circle cx="464.2" cy="48.3" r="3.15" fill="#8e1b1f"/>
<rect x="459.8" y="33.9" width="8.8" height="9.4" rx="3.9" ry="3.9" fill="#f2b9c2" stroke="#262626" stroke-width="1"/>
<text transform="translate(464.2 41.1) scale(1 1.12)" font-size="7.6" text-anchor="middle" fill="#1a1a1a" stroke="#1a1a1a" stroke-width="0.18">7</text>
<circle cx="463.6" cy="94.1" r="3.15" fill="#1f9746"/>
<circle cx="463.6" cy="102.4" r="3.15" fill="#1f9746"/>
<rect x="453.0" y="83.0" width="8.8" height="9.4" rx="3.9" ry="3.9" fill="#f2b9c2" stroke="#262626" stroke-width="1"/>
<text transform="translate(457.4 90.2) scale(1 1.12)" font-size="7.6" text-anchor="middle" fill="#1a1a1a" stroke="#1a1a1a" stroke-width="0.18">1</text>
<circle cx="485.8" cy="108.9" r="3.15" fill="#1f9746"/>
<circle cx="485.8" cy="119.1" r="3.15" fill="#8e1b1f"/>
<rect x="481.40000000000003" y="94.6" width="8.8" height="9.4" rx="3.9" ry="3.9" fill="#f2b9c2" stroke="#262626" stroke-width="1"/>
<text transform="translate(485.8 101.8) scale(1 1.12)" font-size="7.6" text-anchor="middle" fill="#1a1a1a" stroke="#1a1a1a" stroke-width="0.18">4</text>
<circle cx="519.6" cy="87.3" r="3.15" fill="#1f9746"/>
<circle cx="519.6" cy="107.4" r="3.15" fill="#8e1b1f"/>
<rect x="507.9" y="77.7" width="8.8" height="9.4" rx="3.9" ry="3.9" fill="#f2b9c2" stroke="#262626" stroke-width="1"/>
<text transform="translate(512.3 84.9) scale(1 1.12)" font-size="7.6" text-anchor="middle" fill="#1a1a1a" stroke="#1a1a1a" stroke-width="0.18">3</text>
<text x="4.4" y="218.5" font-size="16" text-anchor="start" fill="#111">c</text>
<line x1="22.2" y1="241.3" x2="22.2" y2="389.7" stroke="#4d4d4d" stroke-width="1.1"/>
<line x1="20.0" y1="264.52" x2="22.2" y2="264.52" stroke="#4d4d4d" stroke-width="1"/>
<text transform="translate(18.2 267.41999999999996) scale(1 1.12)" font-size="8.1" text-anchor="end" fill="#1a1a1a" stroke="#1a1a1a" stroke-width="0.18">6</text>
<line x1="20.0" y1="306.08" x2="22.2" y2="306.08" stroke="#4d4d4d" stroke-width="1"/>
<text transform="translate(18.2 308.97999999999996) scale(1 1.12)" font-size="8.1" text-anchor="end" fill="#1a1a1a" stroke="#1a1a1a" stroke-width="0.18">4</text>
<line x1="20.0" y1="347.64" x2="22.2" y2="347.64" stroke="#4d4d4d" stroke-width="1"/>
<text transform="translate(18.2 350.53999999999996) scale(1 1.12)" font-size="8.1" text-anchor="end" fill="#1a1a1a" stroke="#1a1a1a" stroke-width="0.18">2</text>
<line x1="20.0" y1="389.2" x2="22.2" y2="389.2" stroke="#4d4d4d" stroke-width="1"/>
<text transform="translate(18.2 392.09999999999997) scale(1 1.12)" font-size="8.1" text-anchor="end" fill="#1a1a1a" stroke="#1a1a1a" stroke-width="0.18">0</text>
<line x1="308" y1="241.3" x2="308" y2="389.7" stroke="#4d4d4d" stroke-width="1.1"/>
<line x1="308" y1="270.47999999999996" x2="310.2" y2="270.47999999999996" stroke="#4d4d4d" stroke-width="1"/>
<text transform="translate(311.8 273.37999999999994) scale(1 1.12)" font-size="8.1" text-anchor="start" fill="#1a1a1a" stroke="#1a1a1a" stroke-width="0.18">0.20</text>
<line x1="308" y1="300.15999999999997" x2="310.2" y2="300.15999999999997" stroke="#4d4d4d" stroke-width="1"/>
<text transform="translate(311.8 303.05999999999995) scale(1 1.12)" font-size="8.1" text-anchor="start" fill="#1a1a1a" stroke="#1a1a1a" stroke-width="0.18">0.15</text>
<line x1="308" y1="329.84" x2="310.2" y2="329.84" stroke="#4d4d4d" stroke-width="1"/>
<text transform="translate(311.8 332.73999999999995) scale(1 1.12)" font-size="8.1" text-anchor="start" fill="#1a1a1a" stroke="#1a1a1a" stroke-width="0.18">0.10</text>
<line x1="308" y1="359.52" x2="310.2" y2="359.52" stroke="#4d4d4d" stroke-width="1"/>
<text transform="translate(311.8 362.41999999999996) scale(1 1.12)" font-size="8.1" text-anchor="start" fill="#1a1a1a" stroke="#1a1a1a" stroke-width="0.18">0.05</text>
<line x1="308" y1="389.2" x2="310.2" y2="389.2" stroke="#4d4d4d" stroke-width="1"/>
<text transform="translate(311.8 392.09999999999997) scale(1 1.12)" font-size="8.1" text-anchor="start" fill="#1a1a1a" stroke="#1a1a1a" stroke-width="0.18">0.00</text>
<line x1="22.2" y1="389.2" x2="308" y2="389.2" stroke="#4d4d4d" stroke-width="1.1"/>
<line x1="38.75" y1="389.2" x2="38.75" y2="391.4" stroke="#4d4d4d" stroke-width="1"/>
<text transform="translate(38.75 399.8) scale(1 1.12)" font-size="8.1" text-anchor="middle" fill="#1a1a1a" stroke="#1a1a1a" stroke-width="0.18">0.3</text>
<line x1="106.0" y1="389.2" x2="106.0" y2="391.4" stroke="#4d4d4d" stroke-width="1"/>
<text transform="translate(106.0 399.8) scale(1 1.12)" font-size="8.1" text-anchor="middle" fill="#1a1a1a" stroke="#1a1a1a" stroke-width="0.18">0.5</text>
<line x1="173.25" y1="389.2" x2="173.25" y2="391.4" stroke="#4d4d4d" stroke-width="1"/>
<text transform="translate(173.25 399.8) scale(1 1.12)" font-size="8.1" text-anchor="middle" fill="#1a1a1a" stroke="#1a1a1a" stroke-width="0.18">0.7</text>
<line x1="240.50000000000003" y1="389.2" x2="240.50000000000003" y2="391.4" stroke="#4d4d4d" stroke-width="1"/>
<text transform="translate(240.50000000000003 399.8) scale(1 1.12)" font-size="8.1" text-anchor="middle" fill="#1a1a1a" stroke="#1a1a1a" stroke-width="0.18">0.9</text>
<text transform="translate(158.5 409) scale(1 1.12)" font-size="8.1" text-anchor="middle" fill="#1a1a1a" stroke="#1a1a1a" stroke-width="0.18">WBC nuclear convexity</text>
<text transform="translate(9.7 315) rotate(-90) scale(1 1.12)" font-size="8.1" text-anchor="middle" fill="#1a1a1a" stroke="#1a1a1a" stroke-width="0.18">Density (line)</text>
<text transform="translate(330.4 313.4) rotate(90) scale(1 1.12)" font-size="8.1" text-anchor="middle" fill="#1a1a1a" stroke="#1a1a1a" stroke-width="0.18">CM proportion (dots)</text>
<text transform="translate(27 326) scale(1 1.12)" font-size="8.1" fill="#27a6df" stroke="#27a6df" stroke-width="0.18">var<tspan font-size="4.6" dy="2.6" font-style="italic">SF3B1-mut.</tspan><tspan dy="-2.6"> = 0.0147</tspan></text>
<text transform="translate(27 335.5) scale(1 1.12)" font-size="8.1" fill="#6b3f98" stroke="#6b3f98" stroke-width="0.18">var<tspan font-size="4.6" dy="2.6" font-style="italic">SF3B1-w.t.</tspan><tspan dy="-2.6"> = 0.0139</tspan></text>
<circle cx="29.5" cy="349.3" r="2.7" fill="#27a6df"/>
<circle cx="29.5" cy="359.3" r="2.7" fill="#6b3f98"/>
<line x1="26.5" y1="368.8" x2="32.5" y2="368.8" stroke="#27a6df" stroke-width="1.2"/>
<line x1="26.5" y1="378.8" x2="32.5" y2="378.8" stroke="#6b3f98" stroke-width="1.2"/>
<text transform="translate(34.3 352.20) scale(1 1.12)" font-size="8.1" fill="#1a1a1a" stroke="#1a1a1a" stroke-width="0.18"><tspan font-style="italic">SF3B1</tspan>–mutant prop.</text>
<text transform="translate(34.3 362.05) scale(1 1.12)" font-size="8.1" fill="#1a1a1a" stroke="#1a1a1a" stroke-width="0.18"><tspan font-style="italic">SF3B1</tspan>–wildtype prop.</text>
<text transform="translate(34.3 371.90) scale(1 1.12)" font-size="8.1" fill="#1a1a1a" stroke="#1a1a1a" stroke-width="0.18"><tspan font-style="italic">SF3B1</tspan>–mutant dens.</text>
<text transform="translate(34.3 381.75) scale(1 1.12)" font-size="8.1" fill="#1a1a1a" stroke="#1a1a1a" stroke-width="0.18"><tspan font-style="italic">SF3B1</tspan>–wildtype dens.</text>
<text transform="translate(136.9 217.8) scale(1 1.12)" font-size="8.1" text-anchor="middle" fill="#1a1a1a" stroke="#1a1a1a" stroke-width="0.18">Neutrophils</text>
<text transform="translate(136.7 227) scale(1 1.12)" font-size="8.1" text-anchor="middle" fill="#1a1a1a" stroke="#1a1a1a" stroke-width="0.18">(normal and hypolobulated)</text>
<clipPath id="c19"><rect x="97.10" y="231.00" width="25.83" height="25.60"/></clipPath>
<g clip-path="url(#c19)">
<rect x="97.10" y="231.00" width="25.83" height="25.60" fill="#e8e2e5"/>
<ellipse cx="104.56" cy="233.07" rx="3.76" ry="3.48" fill="#d0adb5" stroke="#b58f9a" stroke-width="1.54"/>
<ellipse cx="104.56" cy="233.07" rx="1.74" ry="1.57" fill="#dcc4ca"/>
<ellipse cx="96.76" cy="244.90" rx="3.45" ry="3.19" fill="#d0adb5" stroke="#b58f9a" stroke-width="1.54"/>
<ellipse cx="96.76" cy="244.90" rx="1.60" ry="1.44" fill="#dcc4ca"/>
<ellipse cx="96.31" cy="244.03" rx="3.08" ry="2.85" fill="#d0adb5" stroke="#b58f9a" stroke-width="1.54"/>
<ellipse cx="96.31" cy="244.03" rx="1.43" ry="1.28" fill="#dcc4ca"/>
<ellipse cx="107.96" cy="230.59" rx="3.14" ry="2.91" fill="#d0adb5" stroke="#b58f9a" stroke-width="1.54"/>
<ellipse cx="107.96" cy="230.59" rx="1.45" ry="1.31" fill="#dcc4ca"/>
<ellipse cx="107.68" cy="253.84" rx="3.18" ry="2.94" fill="#d0adb5" stroke="#b58f9a" stroke-width="1.54"/>
<ellipse cx="107.68" cy="253.84" rx="1.47" ry="1.32" fill="#dcc4ca"/>
<ellipse cx="95.96" cy="254.81" rx="3.36" ry="3.11" fill="#d0adb5" stroke="#b58f9a" stroke-width="1.54"/>
<ellipse cx="95.96" cy="254.81" rx="1.56" ry="1.40" fill="#dcc4ca"/>
<ellipse cx="98.99" cy="232.06" rx="3.38" ry="3.13" fill="#d0adb5" stroke="#b58f9a" stroke-width="1.54"/>
<ellipse cx="98.99" cy="232.06" rx="1.57" ry="1.41" fill="#dcc4ca"/>
<ellipse cx="119.82" cy="233.99" rx="3.68" ry="3.41" fill="#d0adb5" stroke="#b58f9a" stroke-width="1.54"/>
<ellipse cx="119.82" cy="233.99" rx="1.71" ry="1.54" fill="#dcc4ca"/>
<ellipse cx="96.46" cy="230.27" rx="3.27" ry="3.03" fill="#d0adb5" stroke="#b58f9a" stroke-width="1.54"/>
<ellipse cx="96.46" cy="230.27" rx="1.51" ry="1.36" fill="#dcc4ca"/>
<ellipse cx="119.14" cy="249.91" rx="3.31" ry="3.07" fill="#d0adb5" stroke="#b58f9a" stroke-width="1.54"/>
<ellipse cx="119.14" cy="249.91" rx="1.53" ry="1.38" fill="#dcc4ca"/>
<ellipse cx="117.13" cy="237.29" rx="4.13" ry="3.82" fill="#d0adb5" stroke="#b58f9a" stroke-width="1.54"/>
<ellipse cx="117.13" cy="237.29" rx="1.91" ry="1.72" fill="#dcc4ca"/>
<circle cx="110.02" cy="244.57" r="6.50" fill="#cdbcdc"/>
<circle cx="112.18" cy="244.57" r="2.64" fill="#5a2a82"/>
<circle cx="109.64" cy="246.70" r="2.64" fill="#5a2a82"/>
<circle cx="107.99" cy="243.83" r="2.64" fill="#5a2a82"/>
<circle cx="110.76" cy="242.54" r="2.64" fill="#5a2a82"/>
</g>
<clipPath id="c20"><rect x="123.73" y="231.00" width="25.83" height="25.60"/></clipPath>
<g clip-path="url(#c20)">
<rect x="123.73" y="231.00" width="25.83" height="25.60" fill="#e2d4d8"/>
<ellipse cx="124.81" cy="241.28" rx="3.88" ry="3.59" fill="#d0adb5" stroke="#b58f9a" stroke-width="1.54"/>
<ellipse cx="124.81" cy="241.28" rx="1.80" ry="1.62" fill="#dcc4ca"/>
<ellipse cx="125.86" cy="243.46" rx="3.08" ry="2.86" fill="#d0adb5" stroke="#b58f9a" stroke-width="1.54"/>
<ellipse cx="125.86" cy="243.46" rx="1.43" ry="1.29" fill="#dcc4ca"/>
<ellipse cx="148.29" cy="238.08" rx="3.81" ry="3.53" fill="#d0adb5" stroke="#b58f9a" stroke-width="1.54"/>
<ellipse cx="148.29" cy="238.08" rx="1.76" ry="1.59" fill="#dcc4ca"/>
<ellipse cx="147.19" cy="257.46" rx="3.57" ry="3.30" fill="#d0adb5" stroke="#b58f9a" stroke-width="1.54"/>
<ellipse cx="147.19" cy="257.46" rx="1.65" ry="1.49" fill="#dcc4ca"/>
<ellipse cx="141.74" cy="230.30" rx="3.82" ry="3.53" fill="#d0adb5" stroke="#b58f9a" stroke-width="1.54"/>
<ellipse cx="141.74" cy="230.30" rx="1.77" ry="1.59" fill="#dcc4ca"/>
<ellipse cx="141.21" cy="258.95" rx="3.95" ry="3.66" fill="#d0adb5" stroke="#b58f9a" stroke-width="1.54"/>
<ellipse cx="141.21" cy="258.95" rx="1.83" ry="1.65" fill="#dcc4ca"/>
<ellipse cx="121.85" cy="242.62" rx="3.23" ry="2.99" fill="#d0adb5" stroke="#b58f9a" stroke-width="1.54"/>
<ellipse cx="121.85" cy="242.62" rx="1.49" ry="1.34" fill="#dcc4ca"/>
<ellipse cx="124.78" cy="230.25" rx="3.89" ry="3.60" fill="#d0adb5" stroke="#b58f9a" stroke-width="1.54"/>
<ellipse cx="124.78" cy="230.25" rx="1.80" ry="1.62" fill="#dcc4ca"/>
<ellipse cx="125.16" cy="236.05" rx="3.47" ry="3.22" fill="#d0adb5" stroke="#b58f9a" stroke-width="1.54"/>
<ellipse cx="125.16" cy="236.05" rx="1.61" ry="1.45" fill="#dcc4ca"/>
<ellipse cx="148.16" cy="230.92" rx="3.54" ry="3.28" fill="#d0adb5" stroke="#b58f9a" stroke-width="1.54"/>
<ellipse cx="148.16" cy="230.92" rx="1.64" ry="1.47" fill="#dcc4ca"/>
<ellipse cx="138.18" cy="255.58" rx="3.95" ry="3.65" fill="#d0adb5" stroke="#b58f9a" stroke-width="1.54"/>
<ellipse cx="138.18" cy="255.58" rx="1.83" ry="1.64" fill="#dcc4ca"/>
<ellipse cx="147.93" cy="236.99" rx="3.50" ry="3.24" fill="#d0adb5" stroke="#b58f9a" stroke-width="1.54"/>
<ellipse cx="147.93" cy="236.99" rx="1.62" ry="1.46" fill="#dcc4ca"/>
<ellipse cx="132.27" cy="255.60" rx="4.10" ry="3.80" fill="#d0adb5" stroke="#b58f9a" stroke-width="1.54"/>
<ellipse cx="132.27" cy="255.60" rx="1.90" ry="1.71" fill="#dcc4ca"/>
<circle cx="137.17" cy="244.57" r="6.20" fill="#cdbcdc"/>
<path d="M140.05,240.97 A3.84,4.08 0 1 0 140.05,248.17" fill="none" stroke="#4e2378" stroke-width="2.64" stroke-linecap="round"/>
</g>
<clipPath id="c21"><rect x="150.37" y="231.00" width="25.83" height="25.60"/></clipPath>
<g clip-path="url(#c21)">
<rect x="150.37" y="231.00" width="25.83" height="25.60" fill="#e8e2e5"/>
<ellipse cx="152.46" cy="233.85" rx="3.30" ry="3.05" fill="#d0adb5" stroke="#b58f9a" stroke-width="1.54"/>
<ellipse cx="152.46" cy="233.85" rx="1.53" ry="1.37" fill="#dcc4ca"/>
<ellipse cx="155.93" cy="228.57" rx="3.50" ry="3.25" fill="#d0adb5" stroke="#b58f9a" stroke-width="1.54"/>
<ellipse cx="155.93" cy="228.57" rx="1.62" ry="1.46" fill="#dcc4ca"/>
<ellipse cx="168.75" cy="230.10" rx="4.04" ry="3.74" fill="#d0adb5" stroke="#b58f9a" stroke-width="1.54"/>
<ellipse cx="168.75" cy="230.10" rx="1.87" ry="1.68" fill="#dcc4ca"/>
<ellipse cx="171.96" cy="255.31" rx="3.92" ry="3.63" fill="#d0adb5" stroke="#b58f9a" stroke-width="1.54"/>
<ellipse cx="171.96" cy="255.31" rx="1.82" ry="1.63" fill="#dcc4ca"/>
<ellipse cx="167.45" cy="230.35" rx="3.12" ry="2.88" fill="#d0adb5" stroke="#b58f9a" stroke-width="1.54"/>
<ellipse cx="167.45" cy="230.35" rx="1.44" ry="1.30" fill="#dcc4ca"/>
<ellipse cx="154.25" cy="233.43" rx="3.42" ry="3.16" fill="#d0adb5" stroke="#b58f9a" stroke-width="1.54"/>
<ellipse cx="154.25" cy="233.43" rx="1.58" ry="1.42" fill="#dcc4ca"/>
<ellipse cx="149.41" cy="228.45" rx="3.21" ry="2.97" fill="#d0adb5" stroke="#b58f9a" stroke-width="1.54"/>
<ellipse cx="149.41" cy="228.45" rx="1.49" ry="1.34" fill="#dcc4ca"/>
<ellipse cx="150.93" cy="239.61" rx="3.07" ry="2.84" fill="#d0adb5" stroke="#b58f9a" stroke-width="1.54"/>
<ellipse cx="150.93" cy="239.61" rx="1.42" ry="1.28" fill="#dcc4ca"/>
<ellipse cx="174.89" cy="247.30" rx="3.21" ry="2.97" fill="#d0adb5" stroke="#b58f9a" stroke-width="1.54"/>
<ellipse cx="174.89" cy="247.30" rx="1.48" ry="1.34" fill="#dcc4ca"/>
<ellipse cx="151.59" cy="254.52" rx="4.14" ry="3.83" fill="#d0adb5" stroke="#b58f9a" stroke-width="1.54"/>
<ellipse cx="151.59" cy="254.52" rx="1.92" ry="1.72" fill="#dcc4ca"/>
<ellipse cx="150.95" cy="238.97" rx="3.33" ry="3.09" fill="#d0adb5" stroke="#b58f9a" stroke-width="1.54"/>
<ellipse cx="150.95" cy="238.97" rx="1.54" ry="1.39" fill="#dcc4ca"/>
<circle cx="163.28" cy="243.03" r="6.00" fill="#cdbcdc"/>
<circle cx="165.17" cy="243.03" r="2.31" fill="#4e2378"/>
<circle cx="162.96" cy="244.89" r="2.31" fill="#4e2378"/>
<circle cx="161.51" cy="242.39" r="2.31" fill="#4e2378"/>
<circle cx="163.93" cy="241.26" r="2.31" fill="#4e2378"/>
</g>
<clipPath id="c22"><rect x="70.70" y="259.60" width="25.90" height="25.80"/></clipPath>
<g clip-path="url(#c22)">
<rect x="70.70" y="259.60" width="25.90" height="25.80" fill="#e8e2e5"/>
<ellipse cx="73.85" cy="272.87" rx="3.77" ry="3.49" fill="#d0adb5" stroke="#b58f9a" stroke-width="1.55"/>
<ellipse cx="73.85" cy="272.87" rx="1.74" ry="1.57" fill="#dcc4ca"/>
<ellipse cx="92.76" cy="259.93" rx="3.40" ry="3.15" fill="#d0adb5" stroke="#b58f9a" stroke-width="1.55"/>
<ellipse cx="92.76" cy="259.93" rx="1.58" ry="1.42" fill="#dcc4ca"/>
<ellipse cx="70.93" cy="282.09" rx="3.84" ry="3.55" fill="#d0adb5" stroke="#b58f9a" stroke-width="1.55"/>
<ellipse cx="70.93" cy="282.09" rx="1.78" ry="1.60" fill="#dcc4ca"/>
<ellipse cx="69.41" cy="287.43" rx="4.14" ry="3.83" fill="#d0adb5" stroke="#b58f9a" stroke-width="1.55"/>
<ellipse cx="69.41" cy="287.43" rx="1.92" ry="1.73" fill="#dcc4ca"/>
<ellipse cx="68.58" cy="273.38" rx="3.13" ry="2.90" fill="#d0adb5" stroke="#b58f9a" stroke-width="1.55"/>
<ellipse cx="68.58" cy="273.38" rx="1.45" ry="1.30" fill="#dcc4ca"/>
<ellipse cx="74.02" cy="264.51" rx="3.10" ry="2.87" fill="#d0adb5" stroke="#b58f9a" stroke-width="1.55"/>
<ellipse cx="74.02" cy="264.51" rx="1.43" ry="1.29" fill="#dcc4ca"/>
<ellipse cx="99.12" cy="287.85" rx="4.00" ry="3.71" fill="#d0adb5" stroke="#b58f9a" stroke-width="1.55"/>
<ellipse cx="99.12" cy="287.85" rx="1.85" ry="1.67" fill="#dcc4ca"/>
<ellipse cx="77.09" cy="259.19" rx="3.92" ry="3.63" fill="#d0adb5" stroke="#b58f9a" stroke-width="1.55"/>
<ellipse cx="77.09" cy="259.19" rx="1.81" ry="1.63" fill="#dcc4ca"/>
<ellipse cx="80.55" cy="283.23" rx="3.50" ry="3.24" fill="#d0adb5" stroke="#b58f9a" stroke-width="1.55"/>
<ellipse cx="80.55" cy="283.23" rx="1.62" ry="1.46" fill="#dcc4ca"/>
<ellipse cx="97.89" cy="283.25" rx="3.07" ry="2.84" fill="#d0adb5" stroke="#b58f9a" stroke-width="1.55"/>
<ellipse cx="97.89" cy="283.25" rx="1.42" ry="1.28" fill="#dcc4ca"/>
<ellipse cx="74.63" cy="285.20" rx="3.59" ry="3.32" fill="#d0adb5" stroke="#b58f9a" stroke-width="1.55"/>
<ellipse cx="74.63" cy="285.20" rx="1.66" ry="1.50" fill="#dcc4ca"/>
<circle cx="83.65" cy="271.98" r="5.80" fill="#cdbcdc"/>
<circle cx="85.54" cy="271.98" r="2.31" fill="#55278a"/>
<circle cx="83.32" cy="273.85" r="2.31" fill="#55278a"/>
<circle cx="81.87" cy="271.34" r="2.31" fill="#55278a"/>
<circle cx="84.30" cy="270.21" r="2.31" fill="#55278a"/>
</g>
<clipPath id="c23"><rect x="97.40" y="259.60" width="25.90" height="25.80"/></clipPath>
<g clip-path="url(#c23)">
<rect x="97.40" y="259.60" width="25.90" height="25.80" fill="#e8e2e5"/>
<ellipse cx="125.28" cy="269.32" rx="3.15" ry="2.91" fill="#d0adb5" stroke="#b58f9a" stroke-width="1.55"/>
<ellipse cx="125.28" cy="269.32" rx="1.46" ry="1.31" fill="#dcc4ca"/>
<ellipse cx="114.37" cy="281.12" rx="3.37" ry="3.12" fill="#d0adb5" stroke="#b58f9a" stroke-width="1.55"/>
<ellipse cx="114.37" cy="281.12" rx="1.56" ry="1.40" fill="#dcc4ca"/>
<ellipse cx="97.52" cy="267.32" rx="4.14" ry="3.83" fill="#d0adb5" stroke="#b58f9a" stroke-width="1.55"/>
<ellipse cx="97.52" cy="267.32" rx="1.92" ry="1.72" fill="#dcc4ca"/>
<ellipse cx="118.37" cy="260.67" rx="3.34" ry="3.09" fill="#d0adb5" stroke="#b58f9a" stroke-width="1.55"/>
<ellipse cx="118.37" cy="260.67" rx="1.55" ry="1.39" fill="#dcc4ca"/>
<ellipse cx="97.95" cy="258.87" rx="3.95" ry="3.66" fill="#d0adb5" stroke="#b58f9a" stroke-width="1.55"/>
<ellipse cx="97.95" cy="258.87" rx="1.83" ry="1.65" fill="#dcc4ca"/>
<ellipse cx="100.33" cy="274.34" rx="3.56" ry="3.30" fill="#d0adb5" stroke="#b58f9a" stroke-width="1.55"/>
<ellipse cx="100.33" cy="274.34" rx="1.65" ry="1.48" fill="#dcc4ca"/>
<ellipse cx="100.74" cy="279.68" rx="3.21" ry="2.97" fill="#d0adb5" stroke="#b58f9a" stroke-width="1.55"/>
<ellipse cx="100.74" cy="279.68" rx="1.49" ry="1.34" fill="#dcc4ca"/>
<ellipse cx="114.82" cy="260.63" rx="3.53" ry="3.27" fill="#d0adb5" stroke="#b58f9a" stroke-width="1.55"/>
<ellipse cx="114.82" cy="260.63" rx="1.64" ry="1.47" fill="#dcc4ca"/>
<ellipse cx="101.43" cy="265.37" rx="4.15" ry="3.84" fill="#d0adb5" stroke="#b58f9a" stroke-width="1.55"/>
<ellipse cx="101.43" cy="265.37" rx="1.92" ry="1.73" fill="#dcc4ca"/>
<ellipse cx="119.78" cy="266.44" rx="4.05" ry="3.75" fill="#d0adb5" stroke="#b58f9a" stroke-width="1.55"/>
<ellipse cx="119.78" cy="266.44" rx="1.88" ry="1.69" fill="#dcc4ca"/>
<ellipse cx="114.76" cy="260.13" rx="4.17" ry="3.86" fill="#d0adb5" stroke="#b58f9a" stroke-width="1.55"/>
<ellipse cx="114.76" cy="260.13" rx="1.93" ry="1.74" fill="#dcc4ca"/>
<circle cx="110.35" cy="271.98" r="6.50" fill="#cdbcdc"/>
<circle cx="111.12" cy="274.10" r="2.75" fill="#4e2378"/>
<circle cx="108.13" cy="272.37" r="2.75" fill="#4e2378"/>
<circle cx="110.35" cy="269.73" r="2.75" fill="#4e2378"/>
<circle cx="112.60" cy="271.98" r="2.75" fill="#4e2378"/>
</g>
<clipPath id="c24"><rect x="124.10" y="259.60" width="25.90" height="25.80"/></clipPath>
<g clip-path="url(#c24)">
<rect x="124.10" y="259.60" width="25.90" height="25.80" fill="#e8e2e5"/>
<ellipse cx="128.14" cy="265.02" rx="3.93" ry="3.64" fill="#d0adb5" stroke="#b58f9a" stroke-width="1.55"/>
<ellipse cx="128.14" cy="265.02" rx="1.82" ry="1.64" fill="#dcc4ca"/>
<ellipse cx="124.31" cy="275.06" rx="3.34" ry="3.09" fill="#d0adb5" stroke="#b58f9a" stroke-width="1.55"/>
<ellipse cx="124.31" cy="275.06" rx="1.54" ry="1.39" fill="#dcc4ca"/>
<ellipse cx="151.32" cy="272.00" rx="3.71" ry="3.43" fill="#d0adb5" stroke="#b58f9a" stroke-width="1.55"/>
<ellipse cx="151.32" cy="272.00" rx="1.72" ry="1.54" fill="#dcc4ca"/>
<ellipse cx="148.44" cy="262.68" rx="3.24" ry="3.00" fill="#d0adb5" stroke="#b58f9a" stroke-width="1.55"/>
<ellipse cx="148.44" cy="262.68" rx="1.50" ry="1.35" fill="#dcc4ca"/>
<ellipse cx="149.74" cy="282.34" rx="3.34" ry="3.10" fill="#d0adb5" stroke="#b58f9a" stroke-width="1.55"/>
<ellipse cx="149.74" cy="282.34" rx="1.55" ry="1.39" fill="#dcc4ca"/>
<ellipse cx="127.41" cy="279.91" rx="4.11" ry="3.81" fill="#d0adb5" stroke="#b58f9a" stroke-width="1.55"/>
<ellipse cx="127.41" cy="279.91" rx="1.90" ry="1.71" fill="#dcc4ca"/>
<ellipse cx="127.62" cy="286.44" rx="4.05" ry="3.75" fill="#d0adb5" stroke="#b58f9a" stroke-width="1.55"/>
<ellipse cx="127.62" cy="286.44" rx="1.87" ry="1.69" fill="#dcc4ca"/>
<ellipse cx="122.71" cy="286.82" rx="3.33" ry="3.08" fill="#d0adb5" stroke="#b58f9a" stroke-width="1.55"/>
<ellipse cx="122.71" cy="286.82" rx="1.54" ry="1.39" fill="#dcc4ca"/>
<ellipse cx="143.90" cy="259.15" rx="3.32" ry="3.07" fill="#d0adb5" stroke="#b58f9a" stroke-width="1.55"/>
<ellipse cx="143.90" cy="259.15" rx="1.54" ry="1.38" fill="#dcc4ca"/>
<ellipse cx="138.90" cy="283.41" rx="3.75" ry="3.47" fill="#d0adb5" stroke="#b58f9a" stroke-width="1.55"/>
<ellipse cx="138.90" cy="283.41" rx="1.74" ry="1.56" fill="#dcc4ca"/>
<ellipse cx="130.22" cy="285.42" rx="3.29" ry="3.05" fill="#d0adb5" stroke="#b58f9a" stroke-width="1.55"/>
<ellipse cx="130.22" cy="285.42" rx="1.52" ry="1.37" fill="#dcc4ca"/>
<ellipse cx="122.03" cy="265.35" rx="3.56" ry="3.30" fill="#d0adb5" stroke="#b58f9a" stroke-width="1.55"/>
<ellipse cx="122.03" cy="265.35" rx="1.65" ry="1.48" fill="#dcc4ca"/>
<circle cx="138.34" cy="272.50" r="6.50" fill="#cdbcdc"/>
<circle cx="138.34" cy="270.25" r="2.50" fill="#4e2378"/>
<circle cx="138.84" cy="275.00" r="2.75" fill="#4e2378"/>
</g>
<text transform="translate(110.9 294.3) scale(1 1.12)" font-size="8.1" text-anchor="middle" fill="#1a1a1a" stroke="#1a1a1a" stroke-width="0.18">Neutrophils with</text>
<text transform="translate(110.4 303.4) scale(1 1.12)" font-size="8.1" text-anchor="middle" fill="#1a1a1a" stroke="#1a1a1a" stroke-width="0.18">nuclear abnormalities</text>
<line x1="176.6" y1="243.5" x2="217.6" y2="243.5" stroke="#777" stroke-width="0.8"/>
<line x1="217.6" y1="243.5" x2="217.6" y2="343" stroke="#777" stroke-width="0.8"/>
<line x1="150.6" y1="272.5" x2="184.1" y2="272.5" stroke="#777" stroke-width="0.8"/>
<line x1="184.1" y1="272.5" x2="184.1" y2="255.6" stroke="#777" stroke-width="0.8"/>
<line x1="184.1" y1="255.6" x2="189" y2="255.6" stroke="#777" stroke-width="0.8"/>
<line x1="161" y1="306.5" x2="161" y2="389.2" stroke="#333" stroke-width="0.9" stroke-dasharray="1,1.6"/>
<line x1="157.7" y1="356.2" x2="157.7" y2="389.2" stroke="#333" stroke-width="0.9" stroke-dasharray="1,1.6"/>
<line x1="193.5" y1="265" x2="193.5" y2="389.2" stroke="#333" stroke-width="0.9" stroke-dasharray="1,1.6"/>
<line x1="204.4" y1="275.2" x2="204.4" y2="389.2" stroke="#333" stroke-width="0.9" stroke-dasharray="1,1.6"/>
<line x1="208.5" y1="353" x2="208.5" y2="389.2" stroke="#333" stroke-width="0.9" stroke-dasharray="1,1.6"/>
<line x1="254.2" y1="270.3" x2="254.2" y2="389.2" stroke="#333" stroke-width="0.9" stroke-dasharray="1,1.6"/>
<line x1="256.7" y1="290.8" x2="256.7" y2="389.2" stroke="#333" stroke-width="0.9" stroke-dasharray="1,1.6"/>
<path d="M34.00,389.00 C38.33,388.93 50.67,388.83 60.00,388.60 C69.33,388.37 81.08,388.47 90.00,387.60 C98.92,386.73 108.03,384.68 113.50,383.40 C118.97,382.12 119.88,381.30 122.80,379.90 C125.72,378.50 128.27,376.68 131.00,375.00 C133.73,373.32 136.87,371.47 139.20,369.80 C141.53,368.13 142.82,367.07 145.00,365.00 C147.18,362.93 149.63,359.58 152.30,357.40 C154.97,355.22 157.35,353.47 161.00,351.90 C164.65,350.33 169.45,348.18 174.20,348.00 C178.95,347.82 184.77,350.52 189.50,350.80 C194.23,351.08 199.20,350.33 202.60,349.70 C206.00,349.07 207.05,348.18 209.90,347.00 C212.75,345.82 216.68,344.15 219.70,342.60 C222.72,341.05 225.53,339.88 228.00,337.70 C230.47,335.52 232.58,332.52 234.50,329.50 C236.42,326.48 237.95,323.18 239.50,319.60 C241.05,316.02 242.50,311.60 243.80,308.00 C245.10,304.40 246.35,301.83 247.30,298.00 C248.25,294.17 248.80,289.33 249.50,285.00 C250.20,280.67 250.83,276.00 251.50,272.00 C252.17,268.00 252.83,263.75 253.50,261.00 C254.17,258.25 254.83,255.50 255.50,255.50 C256.17,255.50 256.92,258.25 257.50,261.00 C258.08,263.75 258.58,268.00 259.00,272.00 C259.42,276.00 259.65,280.67 260.00,285.00 C260.35,289.33 260.68,293.00 261.10,298.00 C261.52,303.00 261.97,308.67 262.50,315.00 C263.03,321.33 263.52,327.83 264.30,336.00 C265.08,344.17 265.87,356.00 267.20,364.00 C268.53,372.00 270.58,379.90 272.30,384.00 C274.02,388.10 273.72,387.77 277.50,388.60 C281.28,389.43 292.08,388.93 295.00,389.00" fill="none" stroke="#27a6df" stroke-width="1.7" stroke-linejoin="round" stroke-linecap="round"/>
<path d="M34.00,389.00 C38.33,388.93 50.67,388.83 60.00,388.60 C69.33,388.37 81.08,388.47 90.00,387.60 C98.92,386.73 108.03,384.68 113.50,383.40 C118.97,382.12 119.88,381.30 122.80,379.90 C125.72,378.50 128.27,376.68 131.00,375.00 C133.73,373.32 136.70,371.30 139.20,369.80 C141.70,368.30 143.10,367.35 146.00,366.00 C148.90,364.65 151.90,363.25 156.60,361.70 C161.30,360.15 168.72,358.05 174.20,356.70 C179.68,355.35 184.77,354.58 189.50,353.60 C194.23,352.62 199.20,351.87 202.60,350.80 C206.00,349.73 207.05,348.57 209.90,347.20 C212.75,345.83 216.68,344.18 219.70,342.60 C222.72,341.02 225.53,339.88 228.00,337.70 C230.47,335.52 232.58,332.52 234.50,329.50 C236.42,326.48 237.98,323.18 239.50,319.60 C241.02,316.02 242.65,311.60 243.60,308.00 C244.55,304.40 244.58,301.83 245.20,298.00 C245.82,294.17 246.67,289.67 247.30,285.00 C247.93,280.33 248.47,274.17 249.00,270.00 C249.53,265.83 249.90,263.50 250.50,260.00 C251.10,256.50 251.80,251.88 252.60,249.00 C253.40,246.12 254.40,242.70 255.30,242.70 C256.20,242.70 257.22,246.12 258.00,249.00 C258.78,251.88 259.50,256.50 260.00,260.00 C260.50,263.50 260.53,263.67 261.00,270.00 C261.47,276.33 262.30,290.50 262.80,298.00 C263.30,305.50 263.53,308.67 264.00,315.00 C264.47,321.33 264.85,327.83 265.60,336.00 C266.35,344.17 267.18,356.00 268.50,364.00 C269.82,372.00 271.83,379.88 273.50,384.00 C275.17,388.12 274.92,387.87 278.50,388.70 C282.08,389.53 292.25,388.95 295.00,389.00" fill="none" stroke="#6b3f98" stroke-width="1.7" stroke-linejoin="round" stroke-linecap="round"/>
<circle cx="161" cy="306.5" r="3.15" fill="#27a6df"/>
<circle cx="161" cy="322.8" r="3.15" fill="#6b3f98"/>
<rect x="156.6" y="292.1" width="8.8" height="9.4" rx="3.9" ry="3.9" fill="#e4e4f2" stroke="#262626" stroke-width="1"/>
<text transform="translate(161 299.3) scale(1 1.12)" font-size="7.6" text-anchor="middle" fill="#1a1a1a" stroke="#1a1a1a" stroke-width="0.18">2</text>
<circle cx="157.7" cy="356.2" r="3.15" fill="#27a6df"/>
<circle cx="157.7" cy="357.4" r="3.15" fill="#6b3f98"/>
<rect x="153.29999999999998" y="342.4" width="8.8" height="9.4" rx="3.9" ry="3.9" fill="#e4e4f2" stroke="#262626" stroke-width="1"/>
<text transform="translate(157.7 349.59999999999997) scale(1 1.12)" font-size="7.6" text-anchor="middle" fill="#1a1a1a" stroke="#1a1a1a" stroke-width="0.18">4</text>
<circle cx="193.5" cy="265" r="3.15" fill="#27a6df"/>
<circle cx="193.5" cy="311.2" r="3.15" fill="#6b3f98"/>
<rect x="189.1" y="250.9" width="8.8" height="9.4" rx="3.9" ry="3.9" fill="#e4e4f2" stroke="#262626" stroke-width="1"/>
<text transform="translate(193.5 258.1) scale(1 1.12)" font-size="7.6" text-anchor="middle" fill="#1a1a1a" stroke="#1a1a1a" stroke-width="0.18">1</text>
<circle cx="204.4" cy="275.2" r="3.15" fill="#6b3f98"/>
<circle cx="204.4" cy="299.2" r="3.15" fill="#27a6df"/>
<rect x="200.0" y="260.5" width="8.8" height="9.4" rx="3.9" ry="3.9" fill="#e4e4f2" stroke="#262626" stroke-width="1"/>
<text transform="translate(204.4 267.7) scale(1 1.12)" font-size="7.6" text-anchor="middle" fill="#1a1a1a" stroke="#1a1a1a" stroke-width="0.18">7</text>
<circle cx="208.5" cy="353" r="3.15" fill="#27a6df"/>
<circle cx="208.5" cy="362.4" r="3.15" fill="#6b3f98"/>
<rect x="204.1" y="339.2" width="8.8" height="9.4" rx="3.9" ry="3.9" fill="#e4e4f2" stroke="#262626" stroke-width="1"/>
<text transform="translate(208.5 346.4) scale(1 1.12)" font-size="7.6" text-anchor="middle" fill="#1a1a1a" stroke="#1a1a1a" stroke-width="0.18">3</text>
<circle cx="254.2" cy="270.3" r="3.15" fill="#6b3f98"/>
<circle cx="254.2" cy="288.7" r="3.15" fill="#27a6df"/>
<rect x="249.79999999999998" y="256.1" width="8.8" height="9.4" rx="3.9" ry="3.9" fill="#e4e4f2" stroke="#262626" stroke-width="1"/>
<text transform="translate(254.2 263.3) scale(1 1.12)" font-size="7.6" text-anchor="middle" fill="#1a1a1a" stroke="#1a1a1a" stroke-width="0.18">6</text>
<circle cx="256.7" cy="290.8" r="3.15" fill="#6b3f98"/>
<circle cx="256.7" cy="320.8" r="3.15" fill="#27a6df"/>
<rect x="252.29999999999998" y="276.5" width="8.8" height="9.4" rx="3.9" ry="3.9" fill="#e4e4f2" stroke="#262626" stroke-width="1"/>
<text transform="translate(256.7 283.7) scale(1 1.12)" font-size="7.6" text-anchor="middle" fill="#1a1a1a" stroke="#1a1a1a" stroke-width="0.18">5</text>
<text x="349.5" y="217.8" font-size="16" text-anchor="start" fill="#111">d</text>
<line x1="390.8" y1="241.3" x2="390.8" y2="389.7" stroke="#4d4d4d" stroke-width="1.1"/>
<line x1="388.6" y1="256.79999999999995" x2="390.8" y2="256.79999999999995" stroke="#4d4d4d" stroke-width="1"/>
<text transform="translate(386.8 259.69999999999993) scale(1 1.12)" font-size="8.1" text-anchor="end" fill="#1a1a1a" stroke="#1a1a1a" stroke-width="0.18">0.0020</text>
<line x1="388.6" y1="289.9" x2="390.8" y2="289.9" stroke="#4d4d4d" stroke-width="1"/>
<text transform="translate(386.8 292.79999999999995) scale(1 1.12)" font-size="8.1" text-anchor="end" fill="#1a1a1a" stroke="#1a1a1a" stroke-width="0.18">0.0015</text>
<line x1="388.6" y1="323.0" x2="390.8" y2="323.0" stroke="#4d4d4d" stroke-width="1"/>
<text transform="translate(386.8 325.9) scale(1 1.12)" font-size="8.1" text-anchor="end" fill="#1a1a1a" stroke="#1a1a1a" stroke-width="0.18">0.0010</text>
<line x1="388.6" y1="356.09999999999997" x2="390.8" y2="356.09999999999997" stroke="#4d4d4d" stroke-width="1"/>
<text transform="translate(386.8 358.99999999999994) scale(1 1.12)" font-size="8.1" text-anchor="end" fill="#1a1a1a" stroke="#1a1a1a" stroke-width="0.18">0.0005</text>
<line x1="388.6" y1="389.2" x2="390.8" y2="389.2" stroke="#4d4d4d" stroke-width="1"/>
<text transform="translate(386.8 392.09999999999997) scale(1 1.12)" font-size="8.1" text-anchor="end" fill="#1a1a1a" stroke="#1a1a1a" stroke-width="0.18">0.0000</text>
<line x1="656.4" y1="241.3" x2="656.4" y2="389.7" stroke="#4d4d4d" stroke-width="1.1"/>
<line x1="656.4" y1="251.325" x2="658.6" y2="251.325" stroke="#4d4d4d" stroke-width="1"/>
<text transform="translate(660.1999999999999 254.225) scale(1 1.12)" font-size="8.1" text-anchor="start" fill="#1a1a1a" stroke="#1a1a1a" stroke-width="0.18">0.25</text>
<line x1="656.4" y1="278.9" x2="658.6" y2="278.9" stroke="#4d4d4d" stroke-width="1"/>
<text transform="translate(660.1999999999999 281.79999999999995) scale(1 1.12)" font-size="8.1" text-anchor="start" fill="#1a1a1a" stroke="#1a1a1a" stroke-width="0.18">0.20</text>
<line x1="656.4" y1="306.475" x2="658.6" y2="306.475" stroke="#4d4d4d" stroke-width="1"/>
<text transform="translate(660.1999999999999 309.375) scale(1 1.12)" font-size="8.1" text-anchor="start" fill="#1a1a1a" stroke="#1a1a1a" stroke-width="0.18">0.15</text>
<line x1="656.4" y1="334.04999999999995" x2="658.6" y2="334.04999999999995" stroke="#4d4d4d" stroke-width="1"/>
<text transform="translate(660.1999999999999 336.94999999999993) scale(1 1.12)" font-size="8.1" text-anchor="start" fill="#1a1a1a" stroke="#1a1a1a" stroke-width="0.18">0.10</text>
<line x1="656.4" y1="361.625" x2="658.6" y2="361.625" stroke="#4d4d4d" stroke-width="1"/>
<text transform="translate(660.1999999999999 364.525) scale(1 1.12)" font-size="8.1" text-anchor="start" fill="#1a1a1a" stroke="#1a1a1a" stroke-width="0.18">0.05</text>
<line x1="656.4" y1="389.2" x2="658.6" y2="389.2" stroke="#4d4d4d" stroke-width="1"/>
<text transform="translate(660.1999999999999 392.09999999999997) scale(1 1.12)" font-size="8.1" text-anchor="start" fill="#1a1a1a" stroke="#1a1a1a" stroke-width="0.18">0.00</text>
<line x1="390.8" y1="389.2" x2="656.4" y2="389.2" stroke="#4d4d4d" stroke-width="1.1"/>
<line x1="423.25" y1="389.2" x2="423.25" y2="391.4" stroke="#4d4d4d" stroke-width="1"/>
<text transform="translate(423.25 399.8) scale(1 1.12)" font-size="8.1" text-anchor="middle" fill="#1a1a1a" stroke="#1a1a1a" stroke-width="0.18">400</text>
<line x1="503.53" y1="389.2" x2="503.53" y2="391.4" stroke="#4d4d4d" stroke-width="1"/>
<text transform="translate(503.53 399.8) scale(1 1.12)" font-size="8.1" text-anchor="middle" fill="#1a1a1a" stroke="#1a1a1a" stroke-width="0.18">800</text>
<line x1="583.81" y1="389.2" x2="583.81" y2="391.4" stroke="#4d4d4d" stroke-width="1"/>
<text transform="translate(583.81 399.8) scale(1 1.12)" font-size="8.1" text-anchor="middle" fill="#1a1a1a" stroke="#1a1a1a" stroke-width="0.18">1200</text>
<text transform="translate(523.7 409) scale(1 1.12)" font-size="8.1" text-anchor="middle" fill="#1a1a1a" stroke="#1a1a1a" stroke-width="0.18">RBC area (pixels)</text>
<text transform="translate(358.9 315) rotate(-90) scale(1 1.12)" font-size="8.1" text-anchor="middle" fill="#1a1a1a" stroke="#1a1a1a" stroke-width="0.18">Density (line)</text>
<text transform="translate(680 314) rotate(90) scale(1 1.12)" font-size="8.1" text-anchor="middle" fill="#1a1a1a" stroke="#1a1a1a" stroke-width="0.18">CM proportion (dots)</text>
<text transform="translate(396.5 248.7) scale(1 1.12)" font-size="8.1" fill="#27a6df" stroke="#27a6df" stroke-width="0.18">mean<tspan font-size="4.6" dy="2.6" font-style="italic">SF3B1-mut.</tspan><tspan dy="-2.6"> = 1170</tspan></text>
<text transform="translate(396.5 258.4) scale(1 1.12)" font-size="8.1" fill="#6b3f98" stroke="#6b3f98" stroke-width="0.18">mean<tspan font-size="4.6" dy="2.6" font-style="italic">SF3B1-w.t.</tspan><tspan dy="-2.6"> = 1095</tspan></text>
<circle cx="399" cy="333.3" r="2.7" fill="#27a6df"/>
<circle cx="399" cy="343.3" r="2.7" fill="#6b3f98"/>
<line x1="396" y1="353.3" x2="402" y2="353.3" stroke="#27a6df" stroke-width="1.2"/>
<line x1="396" y1="363.3" x2="402" y2="363.3" stroke="#6b3f98" stroke-width="1.2"/>
<text transform="translate(403.3 336.20) scale(1 1.12)" font-size="8.1" fill="#1a1a1a" stroke="#1a1a1a" stroke-width="0.18"><tspan font-style="italic">SF3B1</tspan>–mutant prop.</text>
<text transform="translate(403.3 346.20) scale(1 1.12)" font-size="8.1" fill="#1a1a1a" stroke="#1a1a1a" stroke-width="0.18"><tspan font-style="italic">SF3B1</tspan>–wildtype prop.</text>
<text transform="translate(403.3 356.20) scale(1 1.12)" font-size="8.1" fill="#1a1a1a" stroke="#1a1a1a" stroke-width="0.18"><tspan font-style="italic">SF3B1</tspan>–mutant dens.</text>
<text transform="translate(403.3 366.20) scale(1 1.12)" font-size="8.1" fill="#1a1a1a" stroke="#1a1a1a" stroke-width="0.18"><tspan font-style="italic">SF3B1</tspan>–wildtype dens.</text>
<text transform="translate(480.3 291) scale(1 1.12)" font-size="8.1" text-anchor="end" fill="#1a1a1a" stroke="#1a1a1a" stroke-width="0.18">Normal and</text>
<text transform="translate(480.3 300.5) scale(1 1.12)" font-size="8.1" text-anchor="end" fill="#1a1a1a" stroke="#1a1a1a" stroke-width="0.18">spherocytic RBC</text>
<clipPath id="c25"><rect x="482.60" y="284.80" width="13.10" height="13.30"/></clipPath>
<g clip-path="url(#c25)">
<rect x="482.60" y="284.80" width="13.10" height="13.30" fill="#e4dfe1"/>
<ellipse cx="489.15" cy="291.45" rx="3.19" ry="3.46" fill="#dcc2cd" stroke="#c19cb3" stroke-width="1.33" transform="rotate(0 489.15 291.45)"/>
</g>
<clipPath id="c26"><rect x="496.40" y="284.80" width="13.10" height="13.30"/></clipPath>
<g clip-path="url(#c26)">
<rect x="496.40" y="284.80" width="13.10" height="13.30" fill="#e4dfe1"/>
<ellipse cx="502.95" cy="291.45" rx="2.79" ry="3.59" fill="#dcc2cd" stroke="#c19cb3" stroke-width="1.33" transform="rotate(0 502.95 291.45)"/>
</g>
<clipPath id="c27"><rect x="510.20" y="284.80" width="13.10" height="13.30"/></clipPath>
<g clip-path="url(#c27)">
<rect x="510.20" y="284.80" width="13.10" height="13.30" fill="#e4dfe1"/>
<ellipse cx="516.75" cy="291.45" rx="3.33" ry="3.33" fill="#e0c9d3" stroke="#c19cb3" stroke-width="1.33" transform="rotate(0 516.75 291.45)"/>
</g>
<line x1="532.9" y1="274.8" x2="532.9" y2="319.9" stroke="#a8a8a8" stroke-width="0.8"/>
<line x1="532.9" y1="274.8" x2="535.5" y2="274.8" stroke="#a8a8a8" stroke-width="0.8"/>
<line x1="532.9" y1="319.9" x2="535.5" y2="319.9" stroke="#a8a8a8" stroke-width="0.8"/>
<line x1="546.2" y1="297" x2="546.2" y2="319.9" stroke="#a8a8a8" stroke-width="0.8"/>
<line x1="543.6" y1="297" x2="546.2" y2="297" stroke="#a8a8a8" stroke-width="0.8"/>
<line x1="543.6" y1="319.9" x2="546.2" y2="319.9" stroke="#a8a8a8" stroke-width="0.8"/>
<line x1="586.4" y1="272.5" x2="586.4" y2="314.9" stroke="#a8a8a8" stroke-width="0.8"/>
<line x1="586.4" y1="272.5" x2="589" y2="272.5" stroke="#a8a8a8" stroke-width="0.8"/>
<line x1="586.4" y1="314.9" x2="589" y2="314.9" stroke="#a8a8a8" stroke-width="0.8"/>
<line x1="599.9" y1="302.5" x2="599.9" y2="335.5" stroke="#a8a8a8" stroke-width="0.8"/>
<line x1="597.3" y1="302.5" x2="599.9" y2="302.5" stroke="#a8a8a8" stroke-width="0.8"/>
<line x1="597.3" y1="335.5" x2="599.9" y2="335.5" stroke="#a8a8a8" stroke-width="0.8"/>
<line x1="532" y1="366.6" x2="532" y2="389.2" stroke="#333" stroke-width="0.9" stroke-dasharray="1,1.6"/>
<line x1="539.2" y1="276" x2="539.2" y2="389.2" stroke="#333" stroke-width="0.9" stroke-dasharray="1,1.6"/>
<line x1="545.4" y1="357.8" x2="545.4" y2="389.2" stroke="#333" stroke-width="0.9" stroke-dasharray="1,1.6"/>
<line x1="553.1" y1="345.1" x2="553.1" y2="389.2" stroke="#333" stroke-width="0.9" stroke-dasharray="1,1.6"/>
<line x1="592.8" y1="272.5" x2="592.8" y2="389.2" stroke="#333" stroke-width="0.9" stroke-dasharray="1,1.6"/>
<path d="M402.75,379.50 C404.29,378.33 408.79,373.25 412.00,372.50 C415.21,371.75 417.00,373.33 422.00,375.00 C427.00,376.67 435.33,380.83 442.00,382.50 C448.67,384.17 455.75,385.00 462.00,385.00 C468.25,385.00 473.67,385.00 479.50,382.50 C485.33,380.00 491.38,377.08 497.00,370.00 C502.62,362.92 509.48,346.55 513.25,340.00 C517.02,333.45 517.14,336.20 519.60,330.70 C522.06,325.20 524.93,315.45 528.00,307.00 C531.07,298.55 535.08,287.21 538.00,280.00 C540.92,272.79 543.00,268.33 545.50,263.75 C548.00,259.17 550.08,255.42 553.00,252.50 C555.92,249.58 559.67,246.88 563.00,246.25 C566.33,245.62 569.67,246.71 573.00,248.75 C576.33,250.79 579.83,253.96 583.00,258.50 C586.17,263.04 589.32,269.65 592.00,276.00 C594.68,282.35 596.63,289.62 599.10,296.60 C601.57,303.58 603.75,310.78 606.80,317.90 C609.85,325.02 613.60,332.68 617.40,339.30 C621.20,345.92 625.12,350.98 629.60,357.60 C634.08,364.22 641.85,375.43 644.30,379.00" fill="none" stroke="#6b3f98" stroke-width="1.7" stroke-linejoin="round" stroke-linecap="round"/>
<path d="M402.75,383.75 C404.08,383.04 406.29,379.71 410.75,379.50 C415.21,379.29 422.21,381.58 429.50,382.50 C436.79,383.42 444.92,384.58 454.50,385.00 C464.08,385.42 479.08,386.04 487.00,385.00 C494.92,383.96 497.62,381.25 502.00,378.75 C506.38,376.25 509.32,373.71 513.25,370.00 C517.18,366.29 522.48,361.17 525.60,356.50 C528.73,351.83 529.92,348.07 532.00,342.00 C534.08,335.93 535.64,326.10 538.10,320.10 C540.56,314.10 543.64,312.27 546.75,306.00 C549.86,299.73 553.42,289.75 556.75,282.50 C560.08,275.25 563.42,268.12 566.75,262.50 C570.08,256.88 573.33,252.12 576.75,248.75 C580.17,245.38 584.54,242.93 587.25,242.30 C589.96,241.68 590.79,242.55 593.00,245.00 C595.21,247.45 598.33,253.92 600.50,257.00 C602.67,260.08 603.93,261.42 606.00,263.50 C608.07,265.58 610.48,265.52 612.90,269.50 C615.32,273.48 617.72,281.87 620.50,287.40 C623.28,292.93 626.80,296.08 629.60,302.70 C632.40,309.32 634.85,317.72 637.30,327.10 C639.75,336.48 643.13,353.68 644.30,359.00" fill="none" stroke="#27a6df" stroke-width="1.7" stroke-linejoin="round" stroke-linecap="round"/>
<circle cx="532" cy="366.6" r="3.15" fill="#6b3f98"/>
<circle cx="532" cy="377.9" r="3.15" fill="#27a6df"/>
<circle cx="539.2" cy="276" r="3.15" fill="#6b3f98"/>
<circle cx="539.2" cy="297.4" r="3.15" fill="#6b3f98"/>
<circle cx="539.2" cy="319.9" r="3.15" fill="#27a6df"/>
<circle cx="545.4" cy="357.8" r="3.15" fill="#6b3f98"/>
<circle cx="545.4" cy="365.4" r="3.15" fill="#27a6df"/>
<circle cx="553.1" cy="345.1" r="3.15" fill="#27a6df"/>
<circle cx="553.1" cy="345.1" r="3.15" fill="#6b3f98"/>
<circle cx="592.8" cy="272.5" r="3.15" fill="#27a6df"/>
<circle cx="592.8" cy="301.5" r="3.15" fill="#27a6df"/>
<circle cx="592.8" cy="314.6" r="3.15" fill="#6b3f98"/>
<circle cx="592.8" cy="335.3" r="3.15" fill="#6b3f98"/>
<rect x="520.5" y="296.3" width="8.8" height="9.4" rx="3.9" ry="3.9" fill="#f2b9c2" stroke="#262626" stroke-width="1"/>
<text transform="translate(524.9 303.5) scale(1 1.12)" font-size="7.6" text-anchor="middle" fill="#1a1a1a" stroke="#1a1a1a" stroke-width="0.18">1</text>
<rect x="547.5" y="304.2" width="8.8" height="9.4" rx="3.9" ry="3.9" fill="#f2b9c2" stroke="#262626" stroke-width="1"/>
<text transform="translate(551.9 311.4) scale(1 1.12)" font-size="7.6" text-anchor="middle" fill="#1a1a1a" stroke="#1a1a1a" stroke-width="0.18">7</text>
<rect x="527.6" y="352.1" width="8.8" height="9.4" rx="3.9" ry="3.9" fill="#f2b9c2" stroke="#262626" stroke-width="1"/>
<text transform="translate(532 359.3) scale(1 1.12)" font-size="7.6" text-anchor="middle" fill="#1a1a1a" stroke="#1a1a1a" stroke-width="0.18">2</text>
<rect x="541.0" y="343.0" width="8.8" height="9.4" rx="3.9" ry="3.9" fill="#f2b9c2" stroke="#262626" stroke-width="1"/>
<text transform="translate(545.4 350.2) scale(1 1.12)" font-size="7.6" text-anchor="middle" fill="#1a1a1a" stroke="#1a1a1a" stroke-width="0.18">6</text>
<rect x="548.7" y="330.5" width="8.8" height="9.4" rx="3.9" ry="3.9" fill="#f2b9c2" stroke="#262626" stroke-width="1"/>
<text transform="translate(553.1 337.7) scale(1 1.12)" font-size="7.6" text-anchor="middle" fill="#1a1a1a" stroke="#1a1a1a" stroke-width="0.18">5</text>
<rect x="575.1" y="289.1" width="8.8" height="9.4" rx="3.9" ry="3.9" fill="#f2b9c2" stroke="#262626" stroke-width="1"/>
<text transform="translate(579.5 296.3) scale(1 1.12)" font-size="7.6" text-anchor="middle" fill="#1a1a1a" stroke="#1a1a1a" stroke-width="0.18">3</text>
<rect x="602.6" y="314.7" width="8.8" height="9.4" rx="3.9" ry="3.9" fill="#f2b9c2" stroke="#262626" stroke-width="1"/>
<text transform="translate(607 321.9) scale(1 1.12)" font-size="7.6" text-anchor="middle" fill="#1a1a1a" stroke="#1a1a1a" stroke-width="0.18">4</text>
<text transform="translate(343.5 411) scale(1 1.12)" font-size="8.1" text-anchor="middle" fill="#1a1a1a" font-weight="bold" stroke="#1a1a1a" stroke-width="0.18">Computational Morphotypes</text>
<rect x="303.8" y="415.5" width="8.3" height="9.5" rx="3.8" fill="#e4e4f2" stroke="#222" stroke-width="0.8"/>
<text transform="translate(315.5 423.6) scale(1 1.12)" font-size="8.1" text-anchor="start" fill="#1a1a1a" stroke="#1a1a1a" stroke-width="0.18">White</text>
<rect x="346" y="415.5" width="8.4" height="9.5" rx="3.8" fill="#f2b9c2" stroke="#222" stroke-width="0.8"/>
<text transform="translate(357.3 423.6) scale(1 1.12)" font-size="8.1" text-anchor="start" fill="#1a1a1a" stroke="#1a1a1a" stroke-width="0.18">Red</text>
</svg>
</body></html>
